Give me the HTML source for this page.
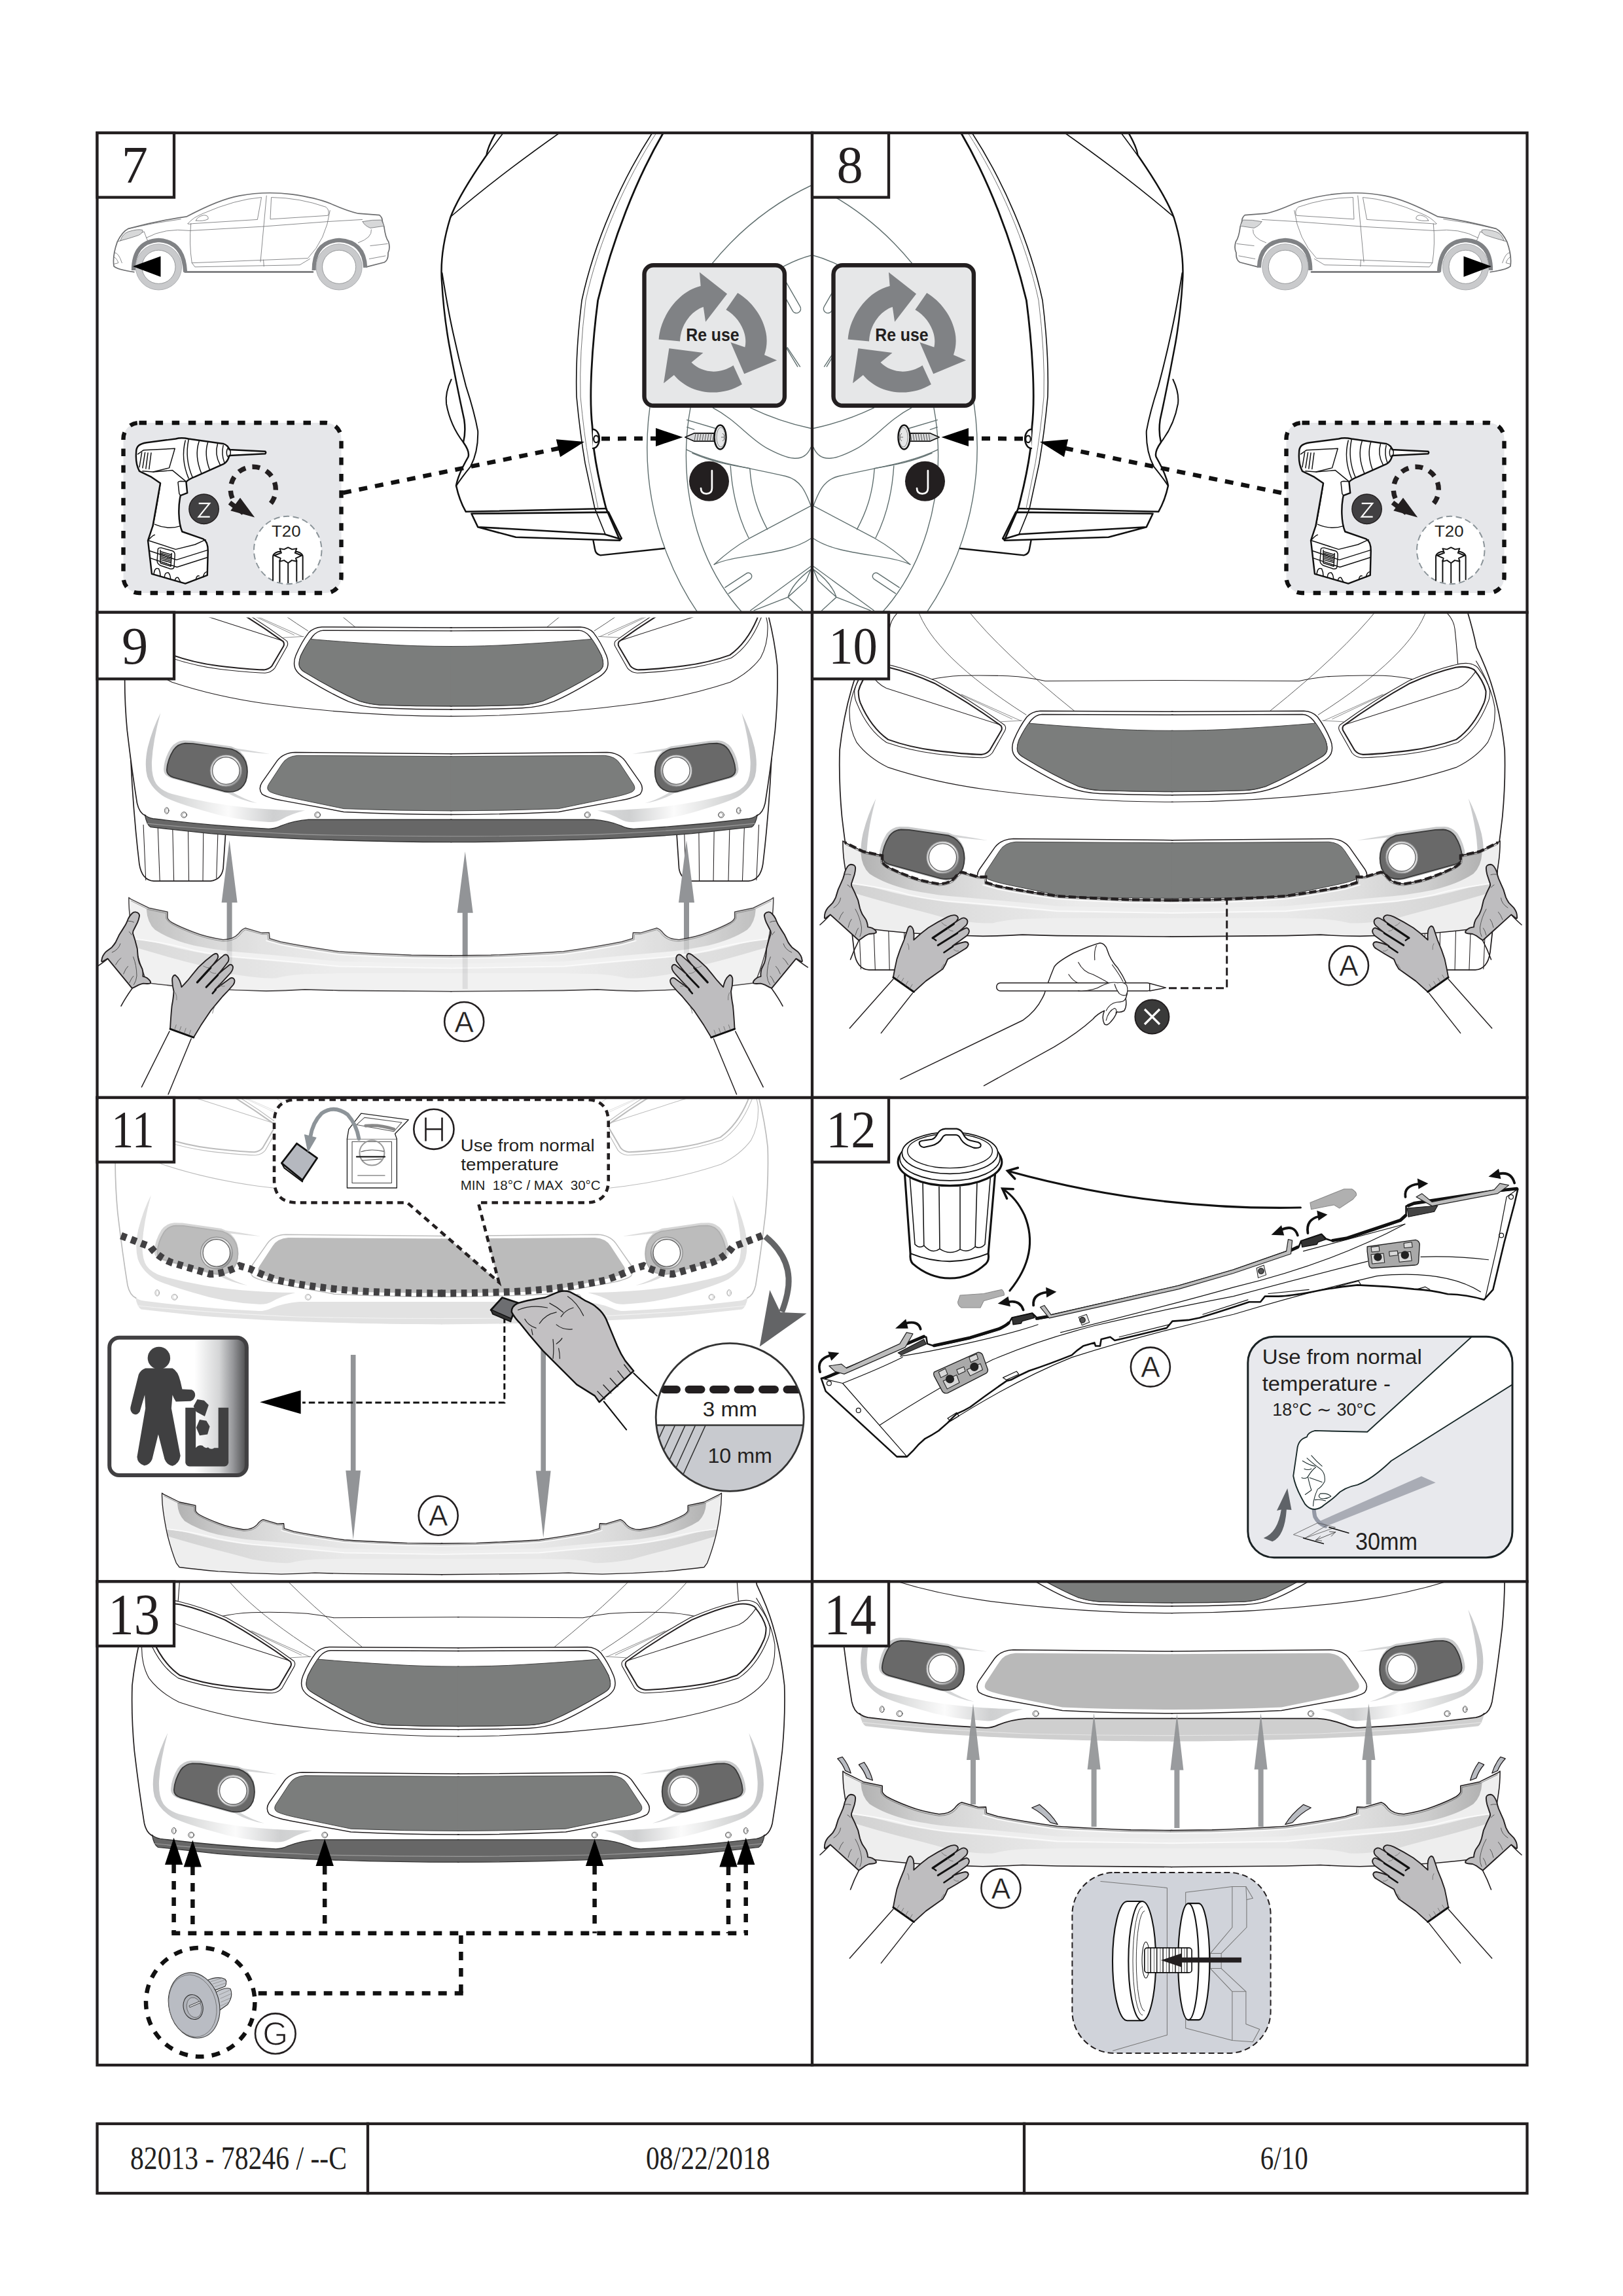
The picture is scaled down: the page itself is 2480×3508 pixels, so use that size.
<!DOCTYPE html>
<html><head><meta charset="utf-8"><title>Installation 6/10</title>
<style>
html,body{margin:0;padding:0;background:#fff;}
body{width:2480px;height:3508px;overflow:hidden;font-family:"Liberation Sans",sans-serif;}
svg{display:block;position:absolute;left:0;top:0;}
.serif{font-family:"Liberation Serif",serif;}
.sans{font-family:"Liberation Sans",sans-serif;}
.k{stroke:#231f20;fill:none;stroke-linecap:round;stroke-linejoin:round;}
.g{stroke:#7f8183;fill:none;stroke-width:1.6;stroke-linecap:round;stroke-linejoin:round;}
.lg{stroke:#c4c6c8;fill:none;stroke-width:2;stroke-linecap:round;stroke-linejoin:round;}
.dash{stroke:#111;fill:none;stroke-width:6.5;stroke-dasharray:13 12;}
</style></head><body>
<svg width="2480" height="3508" viewBox="0 0 2480 3508">
<!-- 00_defs.svg -->
<defs>
<clipPath id="cp7"><rect x="148.5" y="203" width="1092.5" height="732.6"/></clipPath>
<clipPath id="cp8"><rect x="1241" y="203" width="1092.5" height="732.6"/></clipPath>
<clipPath id="cp9"><rect x="148.5" y="935.6" width="1092.5" height="741.4"/></clipPath>
<clipPath id="cp10"><rect x="1241" y="935.6" width="1092.5" height="741.4"/></clipPath>
<clipPath id="cp11"><rect x="148.5" y="1677" width="1092.5" height="739.4"/></clipPath>
<clipPath id="cp12"><rect x="1241" y="1677" width="1092.5" height="739.4"/></clipPath>
<clipPath id="cp13"><rect x="148.5" y="2416.4" width="1092.5" height="738.8"/></clipPath>
<clipPath id="cp14"><rect x="1241" y="2416.4" width="1092.5" height="738.8"/></clipPath>
<clipPath id="cp9b"><rect x="148.5" y="943.5" width="1092.5" height="740"/></clipPath>
<marker id="ah" viewBox="0 0 10 10" refX="5" refY="5" markerWidth="4" markerHeight="4" orient="auto"><path d="M0,0 L10,5 L0,10 z" fill="#111"/></marker>
</defs>

<!-- 10_defs_p78.svg -->
<defs>
<!-- Re use icon, local coords: zoom of region (970,390) scale 6.011 -->
<g id="reuse">
  <rect x="984.5" y="405.2" width="214.4" height="214.6" rx="14" ry="14" fill="#e6e7e8" stroke="#231f20" stroke-width="6.4"/>
  <g transform="translate(970,390) scale(0.16636)" fill="#808285">
    <path d="M220,772 C235,560 400,330 605,282 L595,157 L848,355 L650,612 L630,475 C520,510 420,640 415,790 Z"/>
    <path d="M945,345 C1120,450 1270,690 1190,915 L1305,965 L1005,1090 L880,800 L1012,845 C1040,720 960,570 838,500 Z"/>
    <path d="M985,1185 C800,1300 520,1290 360,1100 L265,1175 L315,855 L628,895 L520,985 C620,1085 780,1095 905,1012 Z"/>
  </g>
  <text x="1048.2" y="520.6" class="sans" font-weight="bold" font-size="27" fill="#231f20" textLength="81.5" lengthAdjust="spacingAndGlyphs">Re use</text>
</g>
<!-- drill box: local = zoom of (160,620) scale 4.0575 -->
<g id="drillbox">
  <rect x="188.5" y="646" width="333" height="260" rx="24" ry="24" fill="#e6e7ea" stroke="#111" stroke-width="6.4" stroke-dasharray="11.5 13.6"/>
  <g transform="translate(160,620) scale(0.24646)">
    <!-- drill body -->
    <path d="M195,290 C195,250 215,235 260,228 L440,205 Q475,195 520,205 L735,235 Q765,245 772,272 L995,283 Q1003,290 995,297 L772,308 Q765,345 735,362 L560,440 Q520,455 505,472 L512,540 L470,556 C455,620 455,720 480,780 L610,825 Q640,840 640,900 L636,1050 L500,1102 L292,1042 L268,835 L298,745 L345,480 L290,442 L215,405 Q190,360 195,290 Z" fill="#fff" stroke="#111" stroke-width="10" stroke-linejoin="round"/>
    <g fill="none" stroke="#111" stroke-width="6" stroke-linecap="round" stroke-linejoin="round">
      <path d="M500,215 Q470,330 520,450"/><path d="M520,210 Q495,330 545,445"/>
      <path d="M585,220 Q555,310 600,420"/><path d="M640,225 Q615,300 650,395"/>
      <path d="M700,235 Q680,300 715,365"/><path d="M735,245 Q722,300 742,352"/>
      <ellipse cx="768" cy="290" rx="12" ry="28"/>
      <path d="M205,300 L240,275 L435,265 L400,385 L300,410 L235,405"/>
      <path d="M215,380 L230,290 M235,385 L250,290 M255,390 L268,292 M275,392 L288,292"/>
      <path d="M300,410 L420,400 L505,470"/>
      <path d="M455,480 Q450,470 470,468 L505,470 M455,480 L462,545 L470,556"/>
      <path d="M345,480 C335,560 320,640 300,745"/>
      <path d="M310,735 Q390,770 470,745"/>
      <path d="M268,835 Q300,800 310,800 M270,835 L440,890 L560,860 L625,830"/>
      <path d="M280,900 L445,955 L636,895 M285,945 L448,1000 L636,940"/>
      <path d="M330,890 Q330,880 350,880 L420,900 Q435,905 435,925 L430,1000 Q425,1015 405,1010 L345,990 Q325,980 325,960 Z"/>
      <path d="M345,895 L345,975 L410,995 L415,915 M350,905 L410,922 M350,915 L410,932 M350,925 L410,942 M350,935 L410,952 M350,945 L410,962 M350,955 L410,972"/>
      <path d="M305,1040 Q310,1000 335,1010 Q345,1030 345,1055 M370,1065 Q372,1030 395,1035 Q408,1050 408,1075 M435,1085 Q440,1060 455,1065 L470,1092 M565,1078 Q570,1050 585,1055 M610,1062 Q615,1035 630,1030"/>
    </g>
    <!-- rotation dashed circle -->
    <path d="M1030,605 A140,140 0 1 0 800,590" fill="none" stroke="#231f20" stroke-width="30" stroke-dasharray="48 42"/>
    <path d="M775,600 L860,665" fill="none" stroke="#231f20" stroke-width="30"/>
    <path d="M930,692 L780,650 L840,570 Z" fill="#231f20"/>
    <!-- Z label -->
    <circle cx="615" cy="640" r="92" fill="#414042" stroke="#231f20" stroke-width="6"/>
    <path d="M583,605 L650,605 L583,688 L652,688" fill="none" stroke="#fff" stroke-width="9" stroke-linejoin="miter"/>
    <!-- T20 -->
    <circle cx="1135" cy="895" r="210" fill="#fff" stroke="#8b9499" stroke-width="8" stroke-dasharray="38 22"/>
    <g fill="#fff" stroke="#111" stroke-width="8" stroke-linejoin="round">
      <path d="M1043,1085 L1043,935 Q1043,915 1075,905 L1195,905 Q1228,915 1228,935 L1228,1080"/>
      <path d="M1085,955 L1085,1095 M1137,975 L1137,1100 M1190,955 L1190,1090" fill="none"/>
      <path d="M1085,885 L1112,890 L1137,878 L1162,890 L1190,885 L1180,912 L1222,928 L1185,945 L1190,965 L1160,958 L1137,975 L1112,958 L1085,965 L1090,945 L1050,928 L1095,912 Z"/>
    </g>
  </g>
  <text x="415" y="820.2" class="sans" font-size="24.5" fill="#231f20" textLength="44.5" lengthAdjust="spacingAndGlyphs">T20</text>
</g>
<!-- car side thumbnail, local = zoom of (150,280) scale 3.246 -->
<g id="carside" transform="translate(150,280) scale(0.30807)">
  <g fill="none" stroke="#6d6e70" stroke-linecap="round" stroke-linejoin="round">
    <path d="M178,440 Q100,430 78,412 Q70,360 95,290 Q120,240 150,225 Q300,185 440,165 Q600,80 700,62 Q830,38 960,55 Q1080,72 1150,100 Q1240,140 1290,150 L1395,158 Q1410,170 1410,190 L1418,215 Q1425,270 1440,290 Q1450,320 1438,345 Q1440,380 1420,392 L1330,415" stroke-width="5.5"/>
    <path d="M430,440 L1065,440" stroke-width="8"/>
    <g stroke-width="2.6">
      <path d="M445,200 Q470,170 520,150 Q680,80 810,70 L790,180 L470,200 Q440,205 445,200 Z"/>
      <path d="M860,70 Q1000,72 1130,118 Q1150,135 1140,160 L855,178 Z"/>
      <path d="M835,62 L805,390 M460,200 Q450,300 465,395 L1040,372 Q1130,280 1150,135"/>
      <path d="M465,395 L480,415 L1000,405 L1050,375"/>
      <path d="M820,380 L822,412"/>
      <path d="M150,225 Q280,195 410,178 M95,290 Q160,270 228,240 Q240,280 255,300"/>
      <path d="M110,285 Q120,250 150,240 Q200,225 220,232 Q225,245 200,258 Q150,275 110,285 Z" fill="#d7d8d9"/>
      <path d="M240,270 Q330,220 455,235 L810,215 L1140,190 L1310,180"/>
      <path d="M1312,190 Q1360,180 1405,182 L1418,212 L1350,222 Q1320,210 1312,190 Z" fill="#d7d8d9"/>
      <path d="M1355,230 Q1360,270 1290,295 M1350,310 L1435,300 M1345,375 L1425,360"/>
      <path d="M80,345 Q100,340 118,395 M78,365 Q95,375 100,395 L80,400"/>
      <path d="M485,185 Q490,165 525,158 Q550,160 545,178 Q520,190 485,185 Z"/>
    </g>
  </g>
  <path d="M175,432 Q175,290 300,282 Q425,290 432,440" fill="none" stroke="#808285" stroke-width="20"/>
  <path d="M1070,432 Q1070,290 1195,282 Q1320,290 1325,418" fill="none" stroke="#808285" stroke-width="20"/>
  <circle cx="300" cy="415" r="114" fill="#c9cacc" stroke="#a7a9ac" stroke-width="3"/>
  <circle cx="300" cy="415" r="83" fill="#fff" stroke="#808285" stroke-width="2.5"/>
  <circle cx="1195" cy="415" r="114" fill="#c9cacc" stroke="#a7a9ac" stroke-width="3"/>
  <circle cx="1195" cy="415" r="83" fill="#fff" stroke="#808285" stroke-width="2.5"/>
</g>
<!-- wheel for panel 7 (right side cut), coordinates absolute -->
<g id="wheel7" fill="none" stroke="#5f6e6e" stroke-width="1.4" stroke-linecap="round">
  <ellipse cx="1423.2" cy="684" rx="434.4" ry="442.1"/>
  <ellipse cx="1288.4" cy="696.2" rx="240" ry="312.6"/>
  <g transform="translate(960,600) scale(0.18484)" stroke-width="7.5">
    <path d="M700,125 C900,230 1000,380 1150,460 S1450,600 1510,450"/>
    <path d="M1010,125 Q1250,240 1510,295"/>
    <path d="M485,225 L720,295 M485,285 L545,305"/>
    <path d="M480,470 C700,580 1000,620 1300,690 C1430,720 1470,830 1510,935"/>
    <path d="M530,500 C700,575 850,600 1000,625"/>
    <path d="M845,605 C860,850 920,1050 995,1200"/>
    <path d="M1005,625 C1020,850 1080,1000 1150,1130"/>
    <path d="M1510,935 L1000,1205 Q850,1290 710,1420"/>
    <path d="M710,1420 C900,1330 1300,1350 1510,1205"/>
    <path d="M800,1610 L975,1495 A28,28 0 0 1 1010,1540 L830,1660"/>
    <path d="M1510,1435 L1010,1800 M1510,1460 L1470,1555 L1320,1690 L1040,1800 M1320,1690 L1440,1800 M1510,1460 Q1360,1570 1320,1690"/>
  </g>
  <g transform="translate(960,200) scale(0.18484)" stroke-width="7.5">
    <path d="M1305,1250 L1420,1450 A30,30 0 0 1 1360,1490 L1305,1390"/>
    <path d="M1305,1790 L1400,1948 M1315,1790 L1420,1948"/>
  </g>
</g>
<!-- fender for panel 7 -->
<g id="fender7" fill="none" stroke="#111" stroke-linecap="round" stroke-linejoin="round">
  <path d="M1013.5,203 C972,274 936,366 913.6,459 C904,533 900,607 905,651 L907.7,688 Q913,727 926.2,777 L947,825 L949.6,822.5" stroke-width="2.8"/>
  <path d="M757.6,203 Q745,225 743.5,237 Q700,300 688,333 Q672,385 675,429 Q678,480 686,525 Q697,585 709.3,641.3 Q712,660 708,675.8 Q718,690 715.5,698 Q700,725 697,742 Q702,765 711.8,781.8 L926.2,777" stroke-width="2.5"/>
  <path d="M769,203 Q760,215 744,237 M855,203 Q760,270 690,330" stroke-width="1.6"/>
  <path d="M675.5,417 Q684,470 690.5,500 Q700,545 712,590 Q725,630 730.2,658.6 Q731,690 719,712.8 Q705,730 697,742.4" stroke-width="2"/>
  <path d="M689.6,579.7 Q680,600 682,616.7 Q688,650 708,675.8" stroke-width="2"/>
  <path d="M720.4,784.8 L929.9,782.6 M720.4,784.8 L730.2,805.2 L788.2,820.8 L947.1,825.7 M730.2,805.2 L923.7,816.3 L948.4,823.7 M929.9,782.6 L949.6,822.5" stroke-width="2.6"/>
  <path d="M906.5,825.7 L908.9,838.5 Q910,847 917.5,848.4 L1014.9,838" stroke-width="2.4"/>
  <path d="M996.7,203 C950,275 908,370 889,459 Q879,540 881,606 Q886,660 894.1,707.9 L908.9,776.9 L924.9,816.3" stroke-width="1.6"/>
  <path d="M1003,203 C956,275 914,370 895,459 Q885,540 887,606 Q892,660 900,707.9 L914,776.9" stroke-width="1" stroke="#777"/>
  <path d="M906,656 A9.5,14 0 1 1 906,685" stroke-width="2.4" fill="#fff"/>
  <ellipse cx="911" cy="670.9" rx="3.8" ry="5.2" stroke-width="2.2" fill="#fff"/>
</g>
<!-- screw pointing left, head to right: tip at (1046.9,668) -->
<g id="screw7">
  <path d="M1046.9,668 L1061,661.8 L1092,662 L1092,674 L1061,674.2 Z" fill="#d9dadb" stroke="#111" stroke-width="1.8" stroke-linejoin="round"/>
  <path d="M1063,662 L1061,674 M1067,662 L1065,674 M1071,662 L1069,674 M1075,662 L1073,674 M1079,662 L1077,674 M1083,662 L1081,674 M1087,662 L1085,674 M1091,662 L1089,674" stroke="#555" stroke-width="1" fill="none"/>
  <ellipse cx="1100.5" cy="668" rx="9" ry="18.5" fill="#e6e7e8" stroke="#111" stroke-width="2.4"/>
  <ellipse cx="1101.5" cy="668" rx="6.5" ry="15" fill="none" stroke="#888" stroke-width="1"/>
  <path d="M1104,662 q3,2 3,6 q0,4 -3,6 M1102,668 h5" stroke="#666" stroke-width="1" fill="none"/>
</g>
<g id="labelJ">
  <circle cx="1083.5" cy="735.3" r="30.5" fill="#231f20"/>
  <path d="M1087.9,719.2 L1087.9,746 Q1087.9,754.3 1079.3,754.3 Q1071,754.3 1071,746" fill="none" stroke="#fff" stroke-width="2.7" stroke-linecap="round"/>
</g>
</defs>

<!-- 11_defs_car.svg -->
<defs>
<linearGradient id="swg" gradientUnits="userSpaceOnUse" x1="230" y1="0" x2="890" y2="0"><stop offset="0" stop-color="#c4c5c7"/><stop offset="0.25" stop-color="#dcdddd"/><stop offset="0.52" stop-color="#fbfbfb"/><stop offset="0.8" stop-color="#cfd0d1"/><stop offset="1" stop-color="#d8d9da"/></linearGradient>
<linearGradient id="ringg" x1="0" y1="0" x2="1" y2="1"><stop offset="0" stop-color="#b8b9bb"/><stop offset="0.5" stop-color="#e8e8e8"/><stop offset="1" stop-color="#77787a"/></linearGradient>
<g id="carN" transform="translate(148,2416) scale(0.36969)" stroke-linecap="round" stroke-linejoin="round"><g><path d="M300,-140 Q275,-60 260,15 Q215,110 195,180 Q160,300 146,430 Q142,560 155,700 Q175,870 196,1000 Q205,1040 230,1052 L1485,1100 L1485,-140 Z" fill="#fff" stroke="none"/><path d="M228,1048 Q240,1060 262,1064 Q500,1094 740,1106 Q765,1106 790,1094 Q845,1072 905,1068 L1497,1068 L1497,1161 C1200,1161 800,1150 500,1126 L252,1099 Q236,1090 228,1048 Z" fill="#676767" stroke="none"/><path d="M1497,1068 L905,1068 Q845,1072 790,1094 Q765,1106 740,1106 Q500,1094 262,1064 Q240,1060 228,1048 Q236,1090 252,1099 L500,1126 C800,1150 1200,1161 1497,1161" fill="none" stroke="#333" stroke-width="3.5"/><path d="M238,1084 Q500,1112 900,1130 Q1200,1137 1497,1137" fill="none" stroke="#9a9a9a" stroke-width="3"/><path d="M300,-140 Q275,-60 260,15 Q215,110 195,180 Q160,300 146,430 Q142,560 155,700 Q175,870 196,1000 Q205,1040 230,1052" fill="none" stroke="#231f20" stroke-width="4.6"/><path d="M262,70 Q200,170 186,260 Q182,340 215,400 Q260,460 340,500 Q520,560 735,590 C1000,625 1250,641 1497,641" fill="none" stroke="#231f20" stroke-width="3"/><path d="M462,-140 Q522,45 902,288 M662,-140 Q802,35 1097,272" fill="none" stroke="#555" stroke-width="2.6"/><path d="M509,146 Q570,132 639,129 Q760,126 869,133 Q930,140 979,151 L1497,148" fill="none" stroke="#231f20" stroke-width="2.8"/><path d="M379,-124 Q352,-95 348,-60 L342,0 L336,80" fill="none" stroke="#231f20" stroke-width="3"/><path d="M800,316 L885,311 M640,205 L880,312 M560,170 L845,305" fill="none" stroke="#555" stroke-width="1.8"/><path d="M815,330 Q680,230 535,150 Q430,105 345,85 Q310,76 290,80 Q265,85 255,97 Q215,150 206,190 Q205,220 216,242 Q260,350 336,400 Q430,432 535,446 Q650,460 725,462 Q750,460 765,442 L816,352 Q822,340 815,330 Z" fill="#fff" stroke="#231f20" stroke-width="3"/><path d="M800,332 Q670,238 530,160 Q430,116 345,96 Q300,88 270,105 Q232,150 222,192 Q222,220 230,240 Q272,338 342,388 Q430,420 535,433 Q650,447 720,449 Q742,447 754,432 L801,352 Q806,342 800,332 Z" fill="none" stroke="#231f20" stroke-width="5.5"/><path d="M262,110 Q300,165 335,180 L795,328" fill="none" stroke="#231f20" stroke-width="2.8"/><path d="M1497,275 L960,272 Q925,274 905,296 Q875,335 852,390 Q840,420 850,445 Q860,465 885,480 Q1000,550 1070,580 Q1130,604 1200,607 Q1350,613 1497,613" fill="none" stroke="#231f20" stroke-width="4"/><path d="M1497,288 L966,286 Q940,288 922,310 Q895,345 873,390 Q862,420 868,437 Q875,452 895,462 Q1010,532 1115,578 Q1160,592 1200,594 Q1350,599 1497,599" fill="none" stroke="#231f20" stroke-width="4"/><path d="M1497,352 Q1350,352 1222,344 Q1050,334 912,322 Q893,348 873,390 Q862,420 868,437 Q875,452 895,462 Q1010,532 1115,578 Q1160,592 1200,594 Q1350,599 1497,599" fill="#7b7d7c" stroke="#3a3a3a" stroke-width="2.5"/><path d="M1497,796 L850,790 Q800,792 775,825 L712,915 Q696,940 712,962 Q735,978 800,990 L1050,1036 Q1270,1047 1497,1047" fill="none" stroke="#231f20" stroke-width="4"/><path d="M1497,807 L860,803 Q815,806 795,838 L740,922 Q728,942 745,953 Q770,965 833,978 L1050,1023 Q1270,1032 1497,1032" fill="#7b7d7c" stroke="#3a3a3a" stroke-width="2.5"/><path d="M293,627 Q262,740 257,827 Q255,890 275,920 Q295,948 340,962 Q500,1005 667,1020 Q780,1030 890,1030 Q830,1045 795,1066 Q770,1080 740,1078 Q600,1072 467,1030 Q360,1000 310,975 Q255,940 238,890 Q225,840 240,770 Q260,690 293,627 Z" fill="url(#swg)" stroke="none"/><path d="M385,748 Q560,762 745,797 Q600,786 430,760 Z M588,954 Q640,985 692,1000 Q630,992 565,956 Z" fill="#d4d5d6" stroke="none"/><path d="M319,862 Q322,820 347,780 Q365,755 395,753 L427,754 L587,777 Q628,790 645,830 Q658,870 645,910 Q630,945 595,952 Q575,955 555,951 L467,927 L347,894 Q318,885 319,862 Z" fill="none" stroke="#c9cacb" stroke-width="16" transform="translate(-5,-4)"/><path d="M319,862 Q322,820 347,780 Q365,755 395,753 L427,754 L587,777 Q628,790 645,830 Q658,870 645,910 Q630,945 595,952 Q575,955 555,951 L467,927 L347,894 Q318,885 319,862 Z" fill="#696969" stroke="#3a3a3a" stroke-width="5"/><circle cx="563.5" cy="866" r="66" fill="url(#ringg)" stroke="#7a7a7a" stroke-width="3"/><circle cx="563.5" cy="866" r="56" fill="#fff" stroke="#555" stroke-width="3"/></g><g transform="translate(2988,0) scale(-1,1)"><path d="M300,-140 Q275,-60 260,15 Q215,110 195,180 Q160,300 146,430 Q142,560 155,700 Q175,870 196,1000 Q205,1040 230,1052 L1485,1100 L1485,-140 Z" fill="#fff" stroke="none"/><path d="M228,1048 Q240,1060 262,1064 Q500,1094 740,1106 Q765,1106 790,1094 Q845,1072 905,1068 L1497,1068 L1497,1161 C1200,1161 800,1150 500,1126 L252,1099 Q236,1090 228,1048 Z" fill="#676767" stroke="none"/><path d="M1497,1068 L905,1068 Q845,1072 790,1094 Q765,1106 740,1106 Q500,1094 262,1064 Q240,1060 228,1048 Q236,1090 252,1099 L500,1126 C800,1150 1200,1161 1497,1161" fill="none" stroke="#333" stroke-width="3.5"/><path d="M238,1084 Q500,1112 900,1130 Q1200,1137 1497,1137" fill="none" stroke="#9a9a9a" stroke-width="3"/><path d="M300,-140 Q275,-60 260,15 Q215,110 195,180 Q160,300 146,430 Q142,560 155,700 Q175,870 196,1000 Q205,1040 230,1052" fill="none" stroke="#231f20" stroke-width="4.6"/><path d="M262,70 Q200,170 186,260 Q182,340 215,400 Q260,460 340,500 Q520,560 735,590 C1000,625 1250,641 1497,641" fill="none" stroke="#231f20" stroke-width="3"/><path d="M462,-140 Q522,45 902,288 M662,-140 Q802,35 1097,272" fill="none" stroke="#555" stroke-width="2.6"/><path d="M509,146 Q570,132 639,129 Q760,126 869,133 Q930,140 979,151 L1497,148" fill="none" stroke="#231f20" stroke-width="2.8"/><path d="M379,-124 Q352,-95 348,-60 L342,0 L336,80" fill="none" stroke="#231f20" stroke-width="3"/><path d="M800,316 L885,311 M640,205 L880,312 M560,170 L845,305" fill="none" stroke="#555" stroke-width="1.8"/><path d="M815,330 Q680,230 535,150 Q430,105 345,85 Q310,76 290,80 Q265,85 255,97 Q215,150 206,190 Q205,220 216,242 Q260,350 336,400 Q430,432 535,446 Q650,460 725,462 Q750,460 765,442 L816,352 Q822,340 815,330 Z" fill="#fff" stroke="#231f20" stroke-width="3"/><path d="M800,332 Q670,238 530,160 Q430,116 345,96 Q300,88 270,105 Q232,150 222,192 Q222,220 230,240 Q272,338 342,388 Q430,420 535,433 Q650,447 720,449 Q742,447 754,432 L801,352 Q806,342 800,332 Z" fill="none" stroke="#231f20" stroke-width="5.5"/><path d="M262,110 Q300,165 335,180 L795,328" fill="none" stroke="#231f20" stroke-width="2.8"/><path d="M1497,275 L960,272 Q925,274 905,296 Q875,335 852,390 Q840,420 850,445 Q860,465 885,480 Q1000,550 1070,580 Q1130,604 1200,607 Q1350,613 1497,613" fill="none" stroke="#231f20" stroke-width="4"/><path d="M1497,288 L966,286 Q940,288 922,310 Q895,345 873,390 Q862,420 868,437 Q875,452 895,462 Q1010,532 1115,578 Q1160,592 1200,594 Q1350,599 1497,599" fill="none" stroke="#231f20" stroke-width="4"/><path d="M1497,352 Q1350,352 1222,344 Q1050,334 912,322 Q893,348 873,390 Q862,420 868,437 Q875,452 895,462 Q1010,532 1115,578 Q1160,592 1200,594 Q1350,599 1497,599" fill="#7b7d7c" stroke="#3a3a3a" stroke-width="2.5"/><path d="M1497,796 L850,790 Q800,792 775,825 L712,915 Q696,940 712,962 Q735,978 800,990 L1050,1036 Q1270,1047 1497,1047" fill="none" stroke="#231f20" stroke-width="4"/><path d="M1497,807 L860,803 Q815,806 795,838 L740,922 Q728,942 745,953 Q770,965 833,978 L1050,1023 Q1270,1032 1497,1032" fill="#7b7d7c" stroke="#3a3a3a" stroke-width="2.5"/><path d="M293,627 Q262,740 257,827 Q255,890 275,920 Q295,948 340,962 Q500,1005 667,1020 Q780,1030 890,1030 Q830,1045 795,1066 Q770,1080 740,1078 Q600,1072 467,1030 Q360,1000 310,975 Q255,940 238,890 Q225,840 240,770 Q260,690 293,627 Z" fill="url(#swg)" stroke="none"/><path d="M385,748 Q560,762 745,797 Q600,786 430,760 Z M588,954 Q640,985 692,1000 Q630,992 565,956 Z" fill="#d4d5d6" stroke="none"/><path d="M319,862 Q322,820 347,780 Q365,755 395,753 L427,754 L587,777 Q628,790 645,830 Q658,870 645,910 Q630,945 595,952 Q575,955 555,951 L467,927 L347,894 Q318,885 319,862 Z" fill="none" stroke="#c9cacb" stroke-width="16" transform="translate(-5,-4)"/><path d="M319,862 Q322,820 347,780 Q365,755 395,753 L427,754 L587,777 Q628,790 645,830 Q658,870 645,910 Q630,945 595,952 Q575,955 555,951 L467,927 L347,894 Q318,885 319,862 Z" fill="#696969" stroke="#3a3a3a" stroke-width="5"/><circle cx="563.5" cy="866" r="66" fill="url(#ringg)" stroke="#7a7a7a" stroke-width="3"/><circle cx="563.5" cy="866" r="56" fill="#fff" stroke="#555" stroke-width="3"/></g><ellipse cx="318.5" cy="1031" rx="9" ry="13" fill="#fff" stroke="#555" stroke-width="2.6"/><ellipse cx="320.0" cy="1031" rx="5.7" ry="9.7" fill="none" stroke="#555" stroke-width="1.5"/><ellipse cx="390" cy="1048.5" rx="12" ry="12" fill="#fff" stroke="#555" stroke-width="2.6"/><ellipse cx="391.5" cy="1048.5" rx="8.7" ry="8.7" fill="none" stroke="#555" stroke-width="1.5"/><ellipse cx="942" cy="1048.5" rx="12" ry="12" fill="#fff" stroke="#555" stroke-width="2.6"/><ellipse cx="943.5" cy="1048.5" rx="8.7" ry="8.7" fill="none" stroke="#555" stroke-width="1.5"/><ellipse cx="2057.4" cy="1048.5" rx="12" ry="12" fill="#fff" stroke="#555" stroke-width="2.6"/><ellipse cx="2055.9" cy="1048.5" rx="8.7" ry="8.7" fill="none" stroke="#555" stroke-width="1.5"/><ellipse cx="2610.3" cy="1048.5" rx="12" ry="12" fill="#fff" stroke="#555" stroke-width="2.6"/><ellipse cx="2608.8" cy="1048.5" rx="8.7" ry="8.7" fill="none" stroke="#555" stroke-width="1.5"/><ellipse cx="2682.5" cy="1031" rx="9" ry="13" fill="#fff" stroke="#555" stroke-width="2.6"/><ellipse cx="2681.0" cy="1031" rx="5.7" ry="9.7" fill="none" stroke="#555" stroke-width="1.5"/></g>
<g id="car14" transform="translate(148,2416) scale(0.36969)" stroke-linecap="round" stroke-linejoin="round"><g><path d="M300,-140 Q275,-60 260,15 Q215,110 195,180 Q160,300 146,430 Q142,560 155,700 Q175,870 196,1000 Q205,1040 230,1052 L1485,1100 L1485,-140 Z" fill="#fff" stroke="none"/><path d="M228,1048 Q240,1060 262,1064 Q500,1094 740,1106 Q765,1106 790,1094 Q845,1072 905,1068 L1497,1068 L1497,1161 C1200,1161 800,1150 500,1126 L252,1099 Q236,1090 228,1048 Z" fill="#cfcfcf" stroke="none"/><path d="M1497,1068 L905,1068 Q845,1072 790,1094 Q765,1106 740,1106 Q500,1094 262,1064 Q240,1060 228,1048 Q236,1090 252,1099 L500,1126 C800,1150 1200,1161 1497,1161" fill="none" stroke="none" stroke-width="3.5"/><path d="M238,1084 Q500,1112 900,1130 Q1200,1137 1497,1137" fill="none" stroke="#e4e4e4" stroke-width="3"/><path d="M228,1048 Q240,1060 262,1064 Q500,1094 740,1106 Q765,1106 790,1094 Q845,1072 905,1068 L1497,1068" fill="none" stroke="#231f20" stroke-width="5"/><path d="M300,-140 Q275,-60 260,15 Q215,110 195,180 Q160,300 146,430 Q142,560 155,700 Q175,870 196,1000 Q205,1040 230,1052" fill="none" stroke="#231f20" stroke-width="4.6"/><path d="M262,70 Q200,170 186,260 Q182,340 215,400 Q260,460 340,500 Q520,560 735,590 C1000,625 1250,641 1497,641" fill="none" stroke="#231f20" stroke-width="3"/><path d="M462,-140 Q522,45 902,288 M662,-140 Q802,35 1097,272" fill="none" stroke="#555" stroke-width="2.6"/><path d="M509,146 Q570,132 639,129 Q760,126 869,133 Q930,140 979,151 L1497,148" fill="none" stroke="#231f20" stroke-width="2.8"/><path d="M379,-124 Q352,-95 348,-60 L342,0 L336,80" fill="none" stroke="#231f20" stroke-width="3"/><path d="M800,316 L885,311 M640,205 L880,312 M560,170 L845,305" fill="none" stroke="#555" stroke-width="1.8"/><path d="M815,330 Q680,230 535,150 Q430,105 345,85 Q310,76 290,80 Q265,85 255,97 Q215,150 206,190 Q205,220 216,242 Q260,350 336,400 Q430,432 535,446 Q650,460 725,462 Q750,460 765,442 L816,352 Q822,340 815,330 Z" fill="#fff" stroke="#231f20" stroke-width="3"/><path d="M800,332 Q670,238 530,160 Q430,116 345,96 Q300,88 270,105 Q232,150 222,192 Q222,220 230,240 Q272,338 342,388 Q430,420 535,433 Q650,447 720,449 Q742,447 754,432 L801,352 Q806,342 800,332 Z" fill="none" stroke="#231f20" stroke-width="5.5"/><path d="M262,110 Q300,165 335,180 L795,328" fill="none" stroke="#231f20" stroke-width="2.8"/><path d="M1497,275 L960,272 Q925,274 905,296 Q875,335 852,390 Q840,420 850,445 Q860,465 885,480 Q1000,550 1070,580 Q1130,604 1200,607 Q1350,613 1497,613" fill="none" stroke="#231f20" stroke-width="4"/><path d="M1497,288 L966,286 Q940,288 922,310 Q895,345 873,390 Q862,420 868,437 Q875,452 895,462 Q1010,532 1115,578 Q1160,592 1200,594 Q1350,599 1497,599" fill="none" stroke="#231f20" stroke-width="4"/><path d="M1497,352 Q1350,352 1222,344 Q1050,334 912,322 Q893,348 873,390 Q862,420 868,437 Q875,452 895,462 Q1010,532 1115,578 Q1160,592 1200,594 Q1350,599 1497,599" fill="#7b7d7c" stroke="#3a3a3a" stroke-width="2.5"/><path d="M1497,796 L850,790 Q800,792 775,825 L712,915 Q696,940 712,962 Q735,978 800,990 L1050,1036 Q1270,1047 1497,1047" fill="none" stroke="#231f20" stroke-width="4"/><path d="M1497,807 L860,803 Q815,806 795,838 L740,922 Q728,942 745,953 Q770,965 833,978 L1050,1023 Q1270,1032 1497,1032" fill="#b9b9b9" stroke="none" stroke-width="2.5"/><path d="M293,627 Q262,740 257,827 Q255,890 275,920 Q295,948 340,962 Q500,1005 667,1020 Q780,1030 890,1030 Q830,1045 795,1066 Q770,1080 740,1078 Q600,1072 467,1030 Q360,1000 310,975 Q255,940 238,890 Q225,840 240,770 Q260,690 293,627 Z" fill="url(#swg)" stroke="none"/><path d="M385,748 Q560,762 745,797 Q600,786 430,760 Z M588,954 Q640,985 692,1000 Q630,992 565,956 Z" fill="#d4d5d6" stroke="none"/><path d="M319,862 Q322,820 347,780 Q365,755 395,753 L427,754 L587,777 Q628,790 645,830 Q658,870 645,910 Q630,945 595,952 Q575,955 555,951 L467,927 L347,894 Q318,885 319,862 Z" fill="none" stroke="#c9cacb" stroke-width="16" transform="translate(-5,-4)"/><path d="M319,862 Q322,820 347,780 Q365,755 395,753 L427,754 L587,777 Q628,790 645,830 Q658,870 645,910 Q630,945 595,952 Q575,955 555,951 L467,927 L347,894 Q318,885 319,862 Z" fill="#696969" stroke="#3a3a3a" stroke-width="5"/><circle cx="563.5" cy="866" r="66" fill="url(#ringg)" stroke="#7a7a7a" stroke-width="3"/><circle cx="563.5" cy="866" r="56" fill="#fff" stroke="#555" stroke-width="3"/></g><g transform="translate(2988,0) scale(-1,1)"><path d="M300,-140 Q275,-60 260,15 Q215,110 195,180 Q160,300 146,430 Q142,560 155,700 Q175,870 196,1000 Q205,1040 230,1052 L1485,1100 L1485,-140 Z" fill="#fff" stroke="none"/><path d="M228,1048 Q240,1060 262,1064 Q500,1094 740,1106 Q765,1106 790,1094 Q845,1072 905,1068 L1497,1068 L1497,1161 C1200,1161 800,1150 500,1126 L252,1099 Q236,1090 228,1048 Z" fill="#cfcfcf" stroke="none"/><path d="M1497,1068 L905,1068 Q845,1072 790,1094 Q765,1106 740,1106 Q500,1094 262,1064 Q240,1060 228,1048 Q236,1090 252,1099 L500,1126 C800,1150 1200,1161 1497,1161" fill="none" stroke="none" stroke-width="3.5"/><path d="M238,1084 Q500,1112 900,1130 Q1200,1137 1497,1137" fill="none" stroke="#e4e4e4" stroke-width="3"/><path d="M228,1048 Q240,1060 262,1064 Q500,1094 740,1106 Q765,1106 790,1094 Q845,1072 905,1068 L1497,1068" fill="none" stroke="#231f20" stroke-width="5"/><path d="M300,-140 Q275,-60 260,15 Q215,110 195,180 Q160,300 146,430 Q142,560 155,700 Q175,870 196,1000 Q205,1040 230,1052" fill="none" stroke="#231f20" stroke-width="4.6"/><path d="M262,70 Q200,170 186,260 Q182,340 215,400 Q260,460 340,500 Q520,560 735,590 C1000,625 1250,641 1497,641" fill="none" stroke="#231f20" stroke-width="3"/><path d="M462,-140 Q522,45 902,288 M662,-140 Q802,35 1097,272" fill="none" stroke="#555" stroke-width="2.6"/><path d="M509,146 Q570,132 639,129 Q760,126 869,133 Q930,140 979,151 L1497,148" fill="none" stroke="#231f20" stroke-width="2.8"/><path d="M379,-124 Q352,-95 348,-60 L342,0 L336,80" fill="none" stroke="#231f20" stroke-width="3"/><path d="M800,316 L885,311 M640,205 L880,312 M560,170 L845,305" fill="none" stroke="#555" stroke-width="1.8"/><path d="M815,330 Q680,230 535,150 Q430,105 345,85 Q310,76 290,80 Q265,85 255,97 Q215,150 206,190 Q205,220 216,242 Q260,350 336,400 Q430,432 535,446 Q650,460 725,462 Q750,460 765,442 L816,352 Q822,340 815,330 Z" fill="#fff" stroke="#231f20" stroke-width="3"/><path d="M800,332 Q670,238 530,160 Q430,116 345,96 Q300,88 270,105 Q232,150 222,192 Q222,220 230,240 Q272,338 342,388 Q430,420 535,433 Q650,447 720,449 Q742,447 754,432 L801,352 Q806,342 800,332 Z" fill="none" stroke="#231f20" stroke-width="5.5"/><path d="M262,110 Q300,165 335,180 L795,328" fill="none" stroke="#231f20" stroke-width="2.8"/><path d="M1497,275 L960,272 Q925,274 905,296 Q875,335 852,390 Q840,420 850,445 Q860,465 885,480 Q1000,550 1070,580 Q1130,604 1200,607 Q1350,613 1497,613" fill="none" stroke="#231f20" stroke-width="4"/><path d="M1497,288 L966,286 Q940,288 922,310 Q895,345 873,390 Q862,420 868,437 Q875,452 895,462 Q1010,532 1115,578 Q1160,592 1200,594 Q1350,599 1497,599" fill="none" stroke="#231f20" stroke-width="4"/><path d="M1497,352 Q1350,352 1222,344 Q1050,334 912,322 Q893,348 873,390 Q862,420 868,437 Q875,452 895,462 Q1010,532 1115,578 Q1160,592 1200,594 Q1350,599 1497,599" fill="#7b7d7c" stroke="#3a3a3a" stroke-width="2.5"/><path d="M1497,796 L850,790 Q800,792 775,825 L712,915 Q696,940 712,962 Q735,978 800,990 L1050,1036 Q1270,1047 1497,1047" fill="none" stroke="#231f20" stroke-width="4"/><path d="M1497,807 L860,803 Q815,806 795,838 L740,922 Q728,942 745,953 Q770,965 833,978 L1050,1023 Q1270,1032 1497,1032" fill="#b9b9b9" stroke="none" stroke-width="2.5"/><path d="M293,627 Q262,740 257,827 Q255,890 275,920 Q295,948 340,962 Q500,1005 667,1020 Q780,1030 890,1030 Q830,1045 795,1066 Q770,1080 740,1078 Q600,1072 467,1030 Q360,1000 310,975 Q255,940 238,890 Q225,840 240,770 Q260,690 293,627 Z" fill="url(#swg)" stroke="none"/><path d="M385,748 Q560,762 745,797 Q600,786 430,760 Z M588,954 Q640,985 692,1000 Q630,992 565,956 Z" fill="#d4d5d6" stroke="none"/><path d="M319,862 Q322,820 347,780 Q365,755 395,753 L427,754 L587,777 Q628,790 645,830 Q658,870 645,910 Q630,945 595,952 Q575,955 555,951 L467,927 L347,894 Q318,885 319,862 Z" fill="none" stroke="#c9cacb" stroke-width="16" transform="translate(-5,-4)"/><path d="M319,862 Q322,820 347,780 Q365,755 395,753 L427,754 L587,777 Q628,790 645,830 Q658,870 645,910 Q630,945 595,952 Q575,955 555,951 L467,927 L347,894 Q318,885 319,862 Z" fill="#696969" stroke="#3a3a3a" stroke-width="5"/><circle cx="563.5" cy="866" r="66" fill="url(#ringg)" stroke="#7a7a7a" stroke-width="3"/><circle cx="563.5" cy="866" r="56" fill="#fff" stroke="#555" stroke-width="3"/></g><ellipse cx="318.5" cy="1031" rx="9" ry="13" fill="#fff" stroke="#555" stroke-width="2.6"/><ellipse cx="320.0" cy="1031" rx="5.7" ry="9.7" fill="none" stroke="#555" stroke-width="1.5"/><ellipse cx="390" cy="1048.5" rx="12" ry="12" fill="#fff" stroke="#555" stroke-width="2.6"/><ellipse cx="391.5" cy="1048.5" rx="8.7" ry="8.7" fill="none" stroke="#555" stroke-width="1.5"/><ellipse cx="942" cy="1048.5" rx="12" ry="12" fill="#fff" stroke="#555" stroke-width="2.6"/><ellipse cx="943.5" cy="1048.5" rx="8.7" ry="8.7" fill="none" stroke="#555" stroke-width="1.5"/><ellipse cx="2057.4" cy="1048.5" rx="12" ry="12" fill="#fff" stroke="#555" stroke-width="2.6"/><ellipse cx="2055.9" cy="1048.5" rx="8.7" ry="8.7" fill="none" stroke="#555" stroke-width="1.5"/><ellipse cx="2610.3" cy="1048.5" rx="12" ry="12" fill="#fff" stroke="#555" stroke-width="2.6"/><ellipse cx="2608.8" cy="1048.5" rx="8.7" ry="8.7" fill="none" stroke="#555" stroke-width="1.5"/><ellipse cx="2682.5" cy="1031" rx="9" ry="13" fill="#fff" stroke="#555" stroke-width="2.6"/><ellipse cx="2681.0" cy="1031" rx="5.7" ry="9.7" fill="none" stroke="#555" stroke-width="1.5"/></g>
<g id="carF" transform="translate(148,2416) scale(0.36969)" stroke-linecap="round" stroke-linejoin="round"><g><path d="M300,-140 Q275,-60 260,15 Q215,110 195,180 Q160,300 146,430 Q142,560 155,700 Q175,870 196,1000 Q205,1040 230,1052 L1485,1100 L1485,-140 Z" fill="#fff" stroke="none"/><path d="M228,1048 Q240,1060 262,1064 Q500,1094 740,1106 Q765,1106 790,1094 Q845,1072 905,1068 L1497,1068 L1497,1161 C1200,1161 800,1150 500,1126 L252,1099 Q236,1090 228,1048 Z" fill="#e2e2e2" stroke="none"/><path d="M1497,1068 L905,1068 Q845,1072 790,1094 Q765,1106 740,1106 Q500,1094 262,1064 Q240,1060 228,1048 Q236,1090 252,1099 L500,1126 C800,1150 1200,1161 1497,1161" fill="none" stroke="none" stroke-width="3.5"/><path d="M238,1084 Q500,1112 900,1130 Q1200,1137 1497,1137" fill="none" stroke="#f2f2f2" stroke-width="3"/><path d="M300,-140 Q275,-60 260,15 Q215,110 195,180 Q160,300 146,430 Q142,560 155,700 Q175,870 196,1000 Q205,1040 230,1052" fill="none" stroke="#bcbcbc" stroke-width="4.6"/><path d="M262,70 Q200,170 186,260 Q182,340 215,400 Q260,460 340,500 Q520,560 735,590 C1000,625 1250,641 1497,641" fill="none" stroke="#bcbcbc" stroke-width="3"/><path d="M462,-140 Q522,45 902,288 M662,-140 Q802,35 1097,272" fill="none" stroke="#cfcfcf" stroke-width="2.6"/><path d="M509,146 Q570,132 639,129 Q760,126 869,133 Q930,140 979,151 L1497,148" fill="none" stroke="#bcbcbc" stroke-width="2.8"/><path d="M379,-124 Q352,-95 348,-60 L342,0 L336,80" fill="none" stroke="#bcbcbc" stroke-width="3"/><path d="M800,316 L885,311 M640,205 L880,312 M560,170 L845,305" fill="none" stroke="#cfcfcf" stroke-width="1.8"/><path d="M815,330 Q680,230 535,150 Q430,105 345,85 Q310,76 290,80 Q265,85 255,97 Q215,150 206,190 Q205,220 216,242 Q260,350 336,400 Q430,432 535,446 Q650,460 725,462 Q750,460 765,442 L816,352 Q822,340 815,330 Z" fill="#fff" stroke="#bcbcbc" stroke-width="3"/><path d="M800,332 Q670,238 530,160 Q430,116 345,96 Q300,88 270,105 Q232,150 222,192 Q222,220 230,240 Q272,338 342,388 Q430,420 535,433 Q650,447 720,449 Q742,447 754,432 L801,352 Q806,342 800,332 Z" fill="none" stroke="#bcbcbc" stroke-width="5.5"/><path d="M262,110 Q300,165 335,180 L795,328" fill="none" stroke="#bcbcbc" stroke-width="2.8"/><path d="M1497,275 L960,272 Q925,274 905,296 Q875,335 852,390 Q840,420 850,445 Q860,465 885,480 Q1000,550 1070,580 Q1130,604 1200,607 Q1350,613 1497,613" fill="none" stroke="#bcbcbc" stroke-width="4"/><path d="M1497,288 L966,286 Q940,288 922,310 Q895,345 873,390 Q862,420 868,437 Q875,452 895,462 Q1010,532 1115,578 Q1160,592 1200,594 Q1350,599 1497,599" fill="none" stroke="#bcbcbc" stroke-width="4"/><path d="M1497,352 Q1350,352 1222,344 Q1050,334 912,322 Q893,348 873,390 Q862,420 868,437 Q875,452 895,462 Q1010,532 1115,578 Q1160,592 1200,594 Q1350,599 1497,599" fill="#bbbbbb" stroke="none" stroke-width="2.5"/><path d="M1497,796 L850,790 Q800,792 775,825 L712,915 Q696,940 712,962 Q735,978 800,990 L1050,1036 Q1270,1047 1497,1047" fill="none" stroke="#bcbcbc" stroke-width="4"/><path d="M1497,807 L860,803 Q815,806 795,838 L740,922 Q728,942 745,953 Q770,965 833,978 L1050,1023 Q1270,1032 1497,1032" fill="#bbbbbb" stroke="none" stroke-width="2.5"/><path d="M293,627 Q262,740 257,827 Q255,890 275,920 Q295,948 340,962 Q500,1005 667,1020 Q780,1030 890,1030 Q830,1045 795,1066 Q770,1080 740,1078 Q600,1072 467,1030 Q360,1000 310,975 Q255,940 238,890 Q225,840 240,770 Q260,690 293,627 Z" fill="#e0e0e0" stroke="none"/><path d="M385,748 Q560,762 745,797 Q600,786 430,760 Z M588,954 Q640,985 692,1000 Q630,992 565,956 Z" fill="#dcdcdc" stroke="none"/><path d="M319,862 Q322,820 347,780 Q365,755 395,753 L427,754 L587,777 Q628,790 645,830 Q658,870 645,910 Q630,945 595,952 Q575,955 555,951 L467,927 L347,894 Q318,885 319,862 Z" fill="none" stroke="#d6d6d6" stroke-width="16" transform="translate(-5,-4)"/><path d="M319,862 Q322,820 347,780 Q365,755 395,753 L427,754 L587,777 Q628,790 645,830 Q658,870 645,910 Q630,945 595,952 Q575,955 555,951 L467,927 L347,894 Q318,885 319,862 Z" fill="#bcbcbc" stroke="#b0b0b0" stroke-width="5"/><circle cx="563.5" cy="866" r="66" fill="url(#ringg)" stroke="#888" stroke-width="3"/><circle cx="563.5" cy="866" r="56" fill="#fff" stroke="#555" stroke-width="3"/></g><g transform="translate(2988,0) scale(-1,1)"><path d="M300,-140 Q275,-60 260,15 Q215,110 195,180 Q160,300 146,430 Q142,560 155,700 Q175,870 196,1000 Q205,1040 230,1052 L1485,1100 L1485,-140 Z" fill="#fff" stroke="none"/><path d="M228,1048 Q240,1060 262,1064 Q500,1094 740,1106 Q765,1106 790,1094 Q845,1072 905,1068 L1497,1068 L1497,1161 C1200,1161 800,1150 500,1126 L252,1099 Q236,1090 228,1048 Z" fill="#e2e2e2" stroke="none"/><path d="M1497,1068 L905,1068 Q845,1072 790,1094 Q765,1106 740,1106 Q500,1094 262,1064 Q240,1060 228,1048 Q236,1090 252,1099 L500,1126 C800,1150 1200,1161 1497,1161" fill="none" stroke="none" stroke-width="3.5"/><path d="M238,1084 Q500,1112 900,1130 Q1200,1137 1497,1137" fill="none" stroke="#f2f2f2" stroke-width="3"/><path d="M300,-140 Q275,-60 260,15 Q215,110 195,180 Q160,300 146,430 Q142,560 155,700 Q175,870 196,1000 Q205,1040 230,1052" fill="none" stroke="#bcbcbc" stroke-width="4.6"/><path d="M262,70 Q200,170 186,260 Q182,340 215,400 Q260,460 340,500 Q520,560 735,590 C1000,625 1250,641 1497,641" fill="none" stroke="#bcbcbc" stroke-width="3"/><path d="M462,-140 Q522,45 902,288 M662,-140 Q802,35 1097,272" fill="none" stroke="#cfcfcf" stroke-width="2.6"/><path d="M509,146 Q570,132 639,129 Q760,126 869,133 Q930,140 979,151 L1497,148" fill="none" stroke="#bcbcbc" stroke-width="2.8"/><path d="M379,-124 Q352,-95 348,-60 L342,0 L336,80" fill="none" stroke="#bcbcbc" stroke-width="3"/><path d="M800,316 L885,311 M640,205 L880,312 M560,170 L845,305" fill="none" stroke="#cfcfcf" stroke-width="1.8"/><path d="M815,330 Q680,230 535,150 Q430,105 345,85 Q310,76 290,80 Q265,85 255,97 Q215,150 206,190 Q205,220 216,242 Q260,350 336,400 Q430,432 535,446 Q650,460 725,462 Q750,460 765,442 L816,352 Q822,340 815,330 Z" fill="#fff" stroke="#bcbcbc" stroke-width="3"/><path d="M800,332 Q670,238 530,160 Q430,116 345,96 Q300,88 270,105 Q232,150 222,192 Q222,220 230,240 Q272,338 342,388 Q430,420 535,433 Q650,447 720,449 Q742,447 754,432 L801,352 Q806,342 800,332 Z" fill="none" stroke="#bcbcbc" stroke-width="5.5"/><path d="M262,110 Q300,165 335,180 L795,328" fill="none" stroke="#bcbcbc" stroke-width="2.8"/><path d="M1497,275 L960,272 Q925,274 905,296 Q875,335 852,390 Q840,420 850,445 Q860,465 885,480 Q1000,550 1070,580 Q1130,604 1200,607 Q1350,613 1497,613" fill="none" stroke="#bcbcbc" stroke-width="4"/><path d="M1497,288 L966,286 Q940,288 922,310 Q895,345 873,390 Q862,420 868,437 Q875,452 895,462 Q1010,532 1115,578 Q1160,592 1200,594 Q1350,599 1497,599" fill="none" stroke="#bcbcbc" stroke-width="4"/><path d="M1497,352 Q1350,352 1222,344 Q1050,334 912,322 Q893,348 873,390 Q862,420 868,437 Q875,452 895,462 Q1010,532 1115,578 Q1160,592 1200,594 Q1350,599 1497,599" fill="#bbbbbb" stroke="none" stroke-width="2.5"/><path d="M1497,796 L850,790 Q800,792 775,825 L712,915 Q696,940 712,962 Q735,978 800,990 L1050,1036 Q1270,1047 1497,1047" fill="none" stroke="#bcbcbc" stroke-width="4"/><path d="M1497,807 L860,803 Q815,806 795,838 L740,922 Q728,942 745,953 Q770,965 833,978 L1050,1023 Q1270,1032 1497,1032" fill="#bbbbbb" stroke="none" stroke-width="2.5"/><path d="M293,627 Q262,740 257,827 Q255,890 275,920 Q295,948 340,962 Q500,1005 667,1020 Q780,1030 890,1030 Q830,1045 795,1066 Q770,1080 740,1078 Q600,1072 467,1030 Q360,1000 310,975 Q255,940 238,890 Q225,840 240,770 Q260,690 293,627 Z" fill="#e0e0e0" stroke="none"/><path d="M385,748 Q560,762 745,797 Q600,786 430,760 Z M588,954 Q640,985 692,1000 Q630,992 565,956 Z" fill="#dcdcdc" stroke="none"/><path d="M319,862 Q322,820 347,780 Q365,755 395,753 L427,754 L587,777 Q628,790 645,830 Q658,870 645,910 Q630,945 595,952 Q575,955 555,951 L467,927 L347,894 Q318,885 319,862 Z" fill="none" stroke="#d6d6d6" stroke-width="16" transform="translate(-5,-4)"/><path d="M319,862 Q322,820 347,780 Q365,755 395,753 L427,754 L587,777 Q628,790 645,830 Q658,870 645,910 Q630,945 595,952 Q575,955 555,951 L467,927 L347,894 Q318,885 319,862 Z" fill="#bcbcbc" stroke="#b0b0b0" stroke-width="5"/><circle cx="563.5" cy="866" r="66" fill="url(#ringg)" stroke="#888" stroke-width="3"/><circle cx="563.5" cy="866" r="56" fill="#fff" stroke="#555" stroke-width="3"/></g><ellipse cx="318.5" cy="1031" rx="9" ry="13" fill="#fff" stroke="#aaa" stroke-width="2.6"/><ellipse cx="320.0" cy="1031" rx="5.7" ry="9.7" fill="none" stroke="#aaa" stroke-width="1.5"/><ellipse cx="390" cy="1048.5" rx="12" ry="12" fill="#fff" stroke="#aaa" stroke-width="2.6"/><ellipse cx="391.5" cy="1048.5" rx="8.7" ry="8.7" fill="none" stroke="#aaa" stroke-width="1.5"/><ellipse cx="942" cy="1048.5" rx="12" ry="12" fill="#fff" stroke="#aaa" stroke-width="2.6"/><ellipse cx="943.5" cy="1048.5" rx="8.7" ry="8.7" fill="none" stroke="#aaa" stroke-width="1.5"/><ellipse cx="2057.4" cy="1048.5" rx="12" ry="12" fill="#fff" stroke="#aaa" stroke-width="2.6"/><ellipse cx="2055.9" cy="1048.5" rx="8.7" ry="8.7" fill="none" stroke="#aaa" stroke-width="1.5"/><ellipse cx="2610.3" cy="1048.5" rx="12" ry="12" fill="#fff" stroke="#aaa" stroke-width="2.6"/><ellipse cx="2608.8" cy="1048.5" rx="8.7" ry="8.7" fill="none" stroke="#aaa" stroke-width="1.5"/><ellipse cx="2682.5" cy="1031" rx="9" ry="13" fill="#fff" stroke="#aaa" stroke-width="2.6"/><ellipse cx="2681.0" cy="1031" rx="5.7" ry="9.7" fill="none" stroke="#aaa" stroke-width="1.5"/></g>
<g id="tires" transform="translate(148,2416) scale(0.36969)" stroke-linecap="round" stroke-linejoin="round"><g><path d="M165,700 Q175,1000 205,1250 Q215,1318 265,1322 L500,1322 Q545,1316 552,1270 L562,1120 L562,1000 L200,900 Z" fill="#fff" stroke="none"/><path d="M165,700 Q175,1000 205,1250 Q215,1318 265,1322 L500,1322 Q545,1316 552,1270 L562,1120" fill="none" stroke="#231f20" stroke-width="4.6"/><path d="M222,1090 L232,1318 M282,1100 L290,1322 M343,1108 L348,1322 M407,1112 L410,1322 M470,1116 L468,1322 M530,1120 L524,1310" fill="none" stroke="#231f20" stroke-width="2.8"/></g><g transform="translate(2988,0) scale(-1,1)"><path d="M165,700 Q175,1000 205,1250 Q215,1318 265,1322 L500,1322 Q545,1316 552,1270 L562,1120 L562,1000 L200,900 Z" fill="#fff" stroke="none"/><path d="M165,700 Q175,1000 205,1250 Q215,1318 265,1322 L500,1322 Q545,1316 552,1270 L562,1120" fill="none" stroke="#231f20" stroke-width="4.6"/><path d="M222,1090 L232,1318 M282,1100 L290,1322 M343,1108 L348,1322 M407,1112 L410,1322 M470,1116 L468,1322 M530,1120 L524,1310" fill="none" stroke="#231f20" stroke-width="2.8"/></g></g>
</defs>

<!-- 12_defs_spoiler.svg -->
<defs>
<linearGradient id="spg1" gradientUnits="userSpaceOnUse" x1="205" y1="0" x2="1100" y2="0"><stop offset="0" stop-color="#b2b2b2"/><stop offset="0.25" stop-color="#cdcdcd"/><stop offset="0.55" stop-color="#dedede"/><stop offset="1" stop-color="#ebebeb"/></linearGradient>
<linearGradient id="spg2" gradientUnits="userSpaceOnUse" x1="160" y1="0" x2="1000" y2="0"><stop offset="0" stop-color="#d2d2d2"/><stop offset="0.5" stop-color="#dddddd"/><stop offset="1" stop-color="#e9e9e9"/></linearGradient>
<g id="spoiler9" transform="translate(148,1330) scale(0.36969)" stroke-linecap="round"><g><path d="M1467,352 L1300,350 Q1100,342 1000,335 Q860,315 760,295 L714,281 L712,257 L682,258 L614,238 Q600,242 585,262 Q565,285 522,286 Q450,275 400,255 Q340,232 310,215 Q295,205 292,196 L292,171 L215,155 L140,118 L132,112 Q132,160 138,200 Q148,270 160,320 Q178,390 200,445 L215,465 Q300,476 400,485 Q550,495 700,498 Q780,497 860,492 Q930,494 1000,496 L1467,500 Z" fill="#eeeeee" stroke="none"/><path d="M1467,352 L1300,350 Q1100,342 1000,335 Q860,315 760,295 L714,281 L712,257 L682,258 L614,238 Q600,242 585,262 Q565,285 522,286 Q450,275 400,255 Q340,232 310,215 Q295,205 292,196 L292,171 L215,155 L205,160 Q208,215 240,245 Q300,285 400,310 Q500,330 560,335 Q760,352 1000,376 L1467,386 Z" fill="url(#spg1)" stroke="none"/><path d="M160,318 Q300,360 400,385 Q500,410 560,428 Q680,448 740,445 Q790,432 860,428 L1000,425 L1467,425 L1467,405 L1000,400 Q760,378 560,360 Q400,340 300,312 Q220,290 155,285 Z" fill="url(#spg2)" stroke="none"/><path d="M150,282 Q300,300 400,330 Q500,350 560,356 Q760,372 1000,396 L1467,404" fill="none" stroke="#fafafa" stroke-width="5"/><path d="M1467,364 L1300,362 Q1100,354 1000,347 Q860,327 760,307 L700,290" fill="none" stroke="#fbfbfb" stroke-width="4"/><path d="M1467,352 L1300,350 Q1100,342 1000,335 Q860,315 760,295 L714,281 L712,257 L682,258 L614,238 Q600,242 585,262 Q565,285 522,286 Q450,275 400,255 Q340,232 310,215 Q295,205 292,196 L292,171 L215,155 L140,118 L132,112 Q132,160 138,200 Q148,270 160,320 Q178,390 200,445 L215,465 Q300,476 400,485 Q550,495 700,498 Q780,497 860,492 Q930,494 1000,496 L1467,500" fill="none" stroke="#231f20" stroke-width="4.2" stroke-linejoin="round"/><path d="M1467,358 L1300,356 Q1100,348 1000,341 Q860,321 760,301 L708,286 L706,264 L682,264 L614,245 Q602,250 590,268 Q568,292 522,293 Q450,282 400,262 Q340,239 310,222 Q290,210 286,198 L286,177 L215,162 L142,126" fill="none" stroke="#555" stroke-width="1.8"/></g><g transform="translate(2928.4,0) scale(-1,1)"><path d="M1467,352 L1300,350 Q1100,342 1000,335 Q860,315 760,295 L714,281 L712,257 L682,258 L614,238 Q600,242 585,262 Q565,285 522,286 Q450,275 400,255 Q340,232 310,215 Q295,205 292,196 L292,171 L215,155 L140,118 L132,112 Q132,160 138,200 Q148,270 160,320 Q178,390 200,445 L215,465 Q300,476 400,485 Q550,495 700,498 Q780,497 860,492 Q930,494 1000,496 L1467,500 Z" fill="#eeeeee" stroke="none"/><path d="M1467,352 L1300,350 Q1100,342 1000,335 Q860,315 760,295 L714,281 L712,257 L682,258 L614,238 Q600,242 585,262 Q565,285 522,286 Q450,275 400,255 Q340,232 310,215 Q295,205 292,196 L292,171 L215,155 L205,160 Q208,215 240,245 Q300,285 400,310 Q500,330 560,335 Q760,352 1000,376 L1467,386 Z" fill="url(#spg1)" stroke="none"/><path d="M160,318 Q300,360 400,385 Q500,410 560,428 Q680,448 740,445 Q790,432 860,428 L1000,425 L1467,425 L1467,405 L1000,400 Q760,378 560,360 Q400,340 300,312 Q220,290 155,285 Z" fill="url(#spg2)" stroke="none"/><path d="M150,282 Q300,300 400,330 Q500,350 560,356 Q760,372 1000,396 L1467,404" fill="none" stroke="#fafafa" stroke-width="5"/><path d="M1467,364 L1300,362 Q1100,354 1000,347 Q860,327 760,307 L700,290" fill="none" stroke="#fbfbfb" stroke-width="4"/><path d="M1467,352 L1300,350 Q1100,342 1000,335 Q860,315 760,295 L714,281 L712,257 L682,258 L614,238 Q600,242 585,262 Q565,285 522,286 Q450,275 400,255 Q340,232 310,215 Q295,205 292,196 L292,171 L215,155 L140,118 L132,112 Q132,160 138,200 Q148,270 160,320 Q178,390 200,445 L215,465 Q300,476 400,485 Q550,495 700,498 Q780,497 860,492 Q930,494 1000,496 L1467,500" fill="none" stroke="#231f20" stroke-width="4.2" stroke-linejoin="round"/><path d="M1467,358 L1300,356 Q1100,348 1000,341 Q860,321 760,301 L708,286 L706,264 L682,264 L614,245 Q602,250 590,268 Q568,292 522,293 Q450,282 400,262 Q340,239 310,222 Q290,210 286,198 L286,177 L215,162 L142,126" fill="none" stroke="#555" stroke-width="1.8"/></g></g>
<g id="edgeL" transform="translate(148,1330) scale(0.36969)" stroke-linecap="round"><path d="M160,172 Q178,175 175,192 Q172,212 160,232 Q150,250 152,265 Q158,300 165,330 Q175,380 185,420 Q200,440 214,452 Q218,462 205,465 Q185,460 165,462 L140,480 Q115,445 95,420 Q65,385 40,365 L20,355 Q45,325 60,310 Q85,280 100,255 Q115,225 125,205 Q135,180 160,172 Z" fill="#bebdbf" stroke="#231f20" stroke-width="4.5" stroke-linejoin="round"/><path d="M130,205 Q150,215 160,205 M110,300 Q100,330 90,345 M75,330 L62,355 M120,395 Q115,415 122,430 M150,420 Q148,440 158,455 M165,330 Q170,400 190,450" fill="none" stroke="#6a6a6a" stroke-width="2.2"/><path d="M22,372 L-10,395 M140,482 L95,555" fill="none" stroke="#231f20" stroke-width="4"/></g>
<g id="handAL" transform="translate(148,1330) scale(0.36969)" stroke-linecap="round"><path d="M303,655 Q306,600 310,560 Q316,530 318,500 Q310,470 312,445 Q316,432 324,432 Q335,440 342,455 Q348,470 350,482 Q362,470 375,455 Q395,430 420,400 Q450,370 480,348 Q492,340 498,346 Q504,354 498,366 Q485,385 468,402 Q495,375 525,350 Q535,344 541,352 Q548,362 543,376 Q525,402 498,432 Q522,410 548,390 Q557,386 562,396 Q566,410 545,432 Q520,460 488,492 Q520,468 550,446 Q562,440 568,450 Q572,460 564,472 Q545,495 520,520 Q495,550 470,580 Q450,610 430,640 L400,690 Z" fill="#bebdbf" stroke="#231f20" stroke-width="5" stroke-linejoin="round"/><path d="M415,462 L470,402" fill="none" stroke="#111" stroke-width="9"/><path d="M452,482 L500,432" fill="none" stroke="#111" stroke-width="8"/><path d="M478,508 L492,492" fill="none" stroke="#111" stroke-width="7"/><path d="M440,395 Q455,405 468,402 M465,415 Q478,428 492,425 M505,470 Q518,482 528,478 M325,505 Q332,520 330,535 M488,560 Q480,575 478,590" fill="none" stroke="#6a6a6a" stroke-width="2.2"/><path d="M303,655 L400,690" fill="none" stroke="#111" stroke-width="8"/><path d="M328,638 L322,655 M348,645 L342,662 M368,652 L362,670 M388,660 L382,677" fill="none" stroke="#6a6a6a" stroke-width="2.2"/><path d="M300,665 L185,895 M390,695 L295,925" fill="none" stroke="#231f20" stroke-width="4"/></g>
<g id="handBL" transform="translate(1241,2650) scale(0.36969)" stroke-linecap="round"><path d="M335,715 Q342,675 350,640 Q362,600 380,560 Q388,535 395,515 Q398,503 407,503 Q416,508 419,522 Q422,540 420,560 Q450,532 480,510 Q520,485 560,465 Q578,456 592,458 Q604,462 603,472 Q598,484 585,492 Q604,478 620,470 Q632,466 641,478 Q645,490 636,500 Q620,515 600,530 Q622,516 638,510 Q648,512 649,524 Q648,536 635,546 Q610,565 580,585 Q610,572 632,568 Q644,568 646,578 Q644,590 634,596 Q600,618 560,640 Q552,662 540,680 Q505,705 470,730 L420,775 Z" fill="#bebdbf" stroke="#231f20" stroke-width="5" stroke-linejoin="round"/><path d="M498,552 L585,494" fill="none" stroke="#111" stroke-width="9"/><path d="M520,582 L600,532" fill="none" stroke="#111" stroke-width="8"/><path d="M545,612 L582,587" fill="none" stroke="#111" stroke-width="7"/><path d="M498,552 L512,562" fill="none" stroke="#111" stroke-width="6"/><path d="M535,488 Q545,500 555,502 M560,512 Q570,525 582,524 M585,600 Q595,610 605,606 M395,575 Q402,585 400,600 M545,660 Q535,672 532,685" fill="none" stroke="#6a6a6a" stroke-width="2.2"/><path d="M335,715 L420,775" fill="none" stroke="#111" stroke-width="8"/><path d="M360,705 L350,722 M378,718 L368,735 M396,731 L386,748 M414,744 L404,761" fill="none" stroke="#6a6a6a" stroke-width="2.2"/><path d="M335,722 L155,925 M415,780 L285,945" fill="none" stroke="#231f20" stroke-width="4"/></g>
<g id="edgeB" stroke-linecap="round"><path d="M1300.1,2741.7 Q1307.5,2742 1307.1,2747.7 Q1307,2752 1305.7,2757 L1302,2768.1 Q1300.5,2771 1301.1,2774.5 L1305.7,2783.8 L1311.2,2796.7 L1314,2808.7 Q1315.5,2813.5 1317.7,2818 L1323.3,2826.3 Q1325,2830 1325.6,2833.7 L1326,2837.4 Q1329,2837.6 1332.5,2838.8 Q1336,2840.5 1338,2842.9 Q1339.5,2845 1338.5,2846.2 Q1336,2847.5 1333.4,2847.5 L1327.9,2848 Q1324.5,2849.5 1321.4,2851.2 L1314.9,2855.9 L1312.2,2857.7 L1268.7,2818.4 L1260.9,2824.4 Q1259.5,2823.8 1259.9,2822.6 Q1259.8,2818.5 1260.9,2815.2 Q1262.5,2811 1265,2807.8 L1272.4,2800.4 Q1275,2796.5 1277,2792.1 L1280.7,2780.1 L1284.4,2771.8 L1288.1,2763.4 Q1289.8,2758.5 1290.9,2753.3 Q1292.5,2748.5 1295.5,2744.5 Q1297.5,2742 1300.1,2741.7 Z" fill="#bebdbf" stroke="#231f20" stroke-width="1.9" stroke-linejoin="round"/><path d="M1291,2757 Q1296,2756 1300,2757.5 M1295,2773 Q1298,2774.5 1299.5,2777 M1284.5,2793 Q1283.5,2802 1274,2808 M1282,2826 Q1285,2818 1288.5,2814.5 M1296,2838 Q1298,2829 1301,2825.5 M1307,2810 Q1314,2822 1316.5,2838 Q1317,2846 1314,2852 M1307,2850 Q1309,2842 1311.5,2839" fill="none" stroke="#4a4a4a" stroke-width="0.9"/><path d="M1268.7,2818.8 Q1260,2828 1253,2834 M1312.5,2857.7 Q1305,2872 1299.5,2887" fill="none" stroke="#231f20" stroke-width="1.6"/></g>
</defs>

<!-- 20_p7.svg -->
<g id="p7" clip-path="url(#cp7)">
  <use href="#wheel7"/>
  <use href="#fender7"/>
  <use href="#carside"/>
  <path d="M203,407 L245.5,391.5 L245.5,423 Z" fill="#000"/>
  <use href="#drillbox"/>
  <path d="M524,753 L858,684.2" class="dash" stroke-width="6.2" stroke-dasharray="12.8 11.8"/>
  <path d="M893,675 L849.8,671.2 L856,698.2 Z" fill="#000"/>
  <path d="M919,670.2 L1004,670" class="dash" stroke-width="6.2" stroke-dasharray="12.5 12.5"/>
  <path d="M1043.5,668 L1002,654 L1002,682 Z" fill="#000"/>
  <use href="#screw7"/>
  <use href="#labelJ"/>
  <use href="#reuse"/>
</g>

<!-- 21_p8.svg -->
<g id="p8" clip-path="url(#cp8)">
  <g transform="translate(2482,0) scale(-1,1)">
    <use href="#wheel7"/>
    <use href="#fender7"/>
    <use href="#carside"/>
    <path d="M203,407 L245.5,391.5 L245.5,423 Z" fill="#000"/>
    <path d="M524,753 L858,684.2" class="dash" stroke-width="6.2" stroke-dasharray="12.8 11.8"/>
    <path d="M893,675 L849.8,671.2 L856,698.2 Z" fill="#000"/>
    <path d="M919,670.2 L1004,670" class="dash" stroke-width="6.2" stroke-dasharray="12.5 12.5"/>
    <path d="M1043.5,668 L1002,654 L1002,682 Z" fill="#000"/>
    <use href="#screw7"/>
  </g>
  <use href="#drillbox" transform="translate(1777,0)"/>
  <use href="#reuse" transform="translate(289,0)"/>
  <use href="#labelJ" transform="translate(330,0)"/>
</g>

<!-- 30_p9.svg -->
<g id="p9" clip-path="url(#cp9)">
  <g clip-path="url(#cp9b)">
  <use href="#tires" transform="translate(-11,-1558.6)"/>
  <use href="#carN" transform="translate(-11,-1558.6)"/>
  </g>
  <g fill="#929497">
    <path d="M350.6,1284 L338.6,1379 L346.6,1379 L346.6,1489 L354.6,1489 L354.6,1379 L362.6,1379 Z"/>
    <path d="M710.7,1301 L698.7,1394.7 L706.7,1394.7 L706.7,1511 L714.7,1511 L714.7,1394.7 L722.7,1394.7 Z"/>
    <path d="M1049,1284 L1037,1379 L1045,1379 L1045,1457 L1053,1457 L1053,1379 L1061,1379 Z"/>
  </g>
  <use href="#spoiler9" opacity="0.82"/>
  <use href="#edgeB" transform="translate(206.8,1393.4) rotate(8.4) translate(-1300.1,-2741.7)"/><use href="#edgeB" transform="translate(1381,0) scale(-1,1) translate(206.8,1393.4) rotate(8.4) translate(-1300.1,-2741.7)"/>
  <use href="#handAL"/><use href="#handAL" transform="translate(1382.6,0) scale(-1,1)"/>
  <circle cx="709.2" cy="1561" r="30" fill="#fff" stroke="#231f20" stroke-width="2.6"/>
  <text x="709.2" y="1576.5" class="sans" font-size="44" text-anchor="middle" fill="#231f20" stroke="#fff" stroke-width="0.5">A</text>
</g>

<!-- 40_p10.svg -->
<g id="p10" clip-path="url(#cp10)">
  <use href="#tires" transform="translate(1439.7,1310.1) scale(1.0195) translate(-355.6,-2736.2)"/>
  <use href="#carN" transform="translate(1439.7,1310.1) scale(1.0195) translate(-355.6,-2736.2)"/>
  <use href="#spoiler9" transform="translate(1790,1284.9) scale(1.0195) translate(-689.3,-1371.4)"/>
  <!-- dashed line along spoiler top edge -->
  <g transform="translate(1790,1284.9) scale(1.0195) translate(-689.3,-1371.4)">
   <g transform="translate(148,1330) scale(0.36969)" fill="none" stroke="#231f20" stroke-width="11" stroke-dasharray="30 13">
    <path id="sptop" d="M1464,352 L1300,350 Q1100,342 1000,335 Q860,315 760,295 L714,281 L712,257 L682,258 L614,238 Q600,242 585,262 Q565,285 522,286 Q450,275 400,255 Q340,232 310,215 Q295,205 292,196 L292,171 L215,155 L140,118"/>
    <use href="#sptop" transform="translate(2928.4,0) scale(-1,1)"/>
   </g>
  </g>
  <use href="#edgeB" transform="translate(0,-1421)"/><use href="#edgeB" transform="translate(3578,-1421) scale(-1,1)"/>
  <use href="#handBL" transform="translate(0,-1421)"/><use href="#handBL" transform="translate(3578,-1421) scale(-1,1)"/>
  <!-- pencil hand: local zoom origin (1241,1230) scale 2.705 -->
  <g transform="translate(1241,1230) scale(0.36969)" stroke="#231f20" stroke-width="4" stroke-linejoin="round" stroke-linecap="round">
    <path d="M365,1133 L870,890 Q930,850 960,780 Q975,730 1000,670 Q1010,650 1080,612 Q1150,580 1190,570 Q1212,572 1220,600 Q1232,640 1262,672 Q1285,705 1300,740 Q1308,770 1296,800 Q1302,830 1290,850 Q1275,858 1260,855 Q1250,880 1235,895 Q1220,915 1208,905 Q1195,880 1208,850 Q1180,862 1160,885 Q1100,940 1000,1000 L710,1160" fill="#fff"/>
    <rect x="762" y="735" width="640" height="33" rx="16" fill="#fff"/>
    <path d="M1395,737 L1462,755 L1395,768 Z" fill="#fff"/>
    <path d="M1168,640 Q1165,600 1175,580 M1100,650 Q1120,690 1160,700 Q1200,720 1225,735 M1060,700 Q1080,730 1100,735 M1240,660 Q1270,700 1285,730" fill="none" stroke-width="3"/>
    <path d="M1100,768 Q1160,770 1200,745 Q1240,728 1262,735 Q1290,730 1300,745 Q1308,765 1298,785 Q1285,790 1270,780 Q1255,760 1250,740" fill="#fff" stroke-width="3"/>
    <path d="M1215,850 Q1230,820 1258,815 Q1290,815 1295,800 M1215,890 Q1225,850 1250,840 Q1262,845 1255,860" fill="none" stroke-width="3"/>
  </g>
  <path d="M1786,1509.7 H1874.7 V1372.5" fill="none" stroke="#231f20" stroke-width="3" stroke-dasharray="12 6"/>
  <circle cx="1760.4" cy="1553.5" r="26" fill="#3a3a3a" stroke="#231f20" stroke-width="2"/>
  <path d="M1749,1542 L1772,1565 M1772,1542 L1749,1565" stroke="#fff" stroke-width="3.2" fill="none"/>
  <circle cx="2061" cy="1475.2" r="30" fill="#fff" stroke="#231f20" stroke-width="2.6"/>
  <text x="2061" y="1490.7" class="sans" font-size="44" text-anchor="middle" fill="#231f20" stroke="#fff" stroke-width="0.5">A</text>
</g>

<!-- 50_p11.svg -->
<defs>
<linearGradient id="trg" x1="0" y1="0" x2="1" y2="0"><stop offset="0" stop-color="#fff"/><stop offset="0.62" stop-color="#fff"/><stop offset="0.8" stop-color="#d4d5d6"/><stop offset="0.9" stop-color="#96979a"/><stop offset="1" stop-color="#4b4b4d"/></linearGradient>
<clipPath id="cpd"><circle cx="1115.2" cy="2165.4" r="113"/></clipPath>
<path id="dotL" d="M185,1888 L230,1905 Q240,1920 262,1929 L321,1946.5 Q340,1947 366,1934 L383,1939 Q400,1948 425,1956 Q480,1968 555,1973 Q620,1976 676,1976"/>
</defs>
<g id="p11" clip-path="url(#cp11)">
  <use href="#carF" transform="translate(-25.5,-821.8)"/>
  <!-- callout -->
  <path d="M454,1680 H895 Q929.7,1680 929.7,1715 V1802.5 Q929.7,1837.5 895,1837.5 H730.8 L762.2,1959 L622.4,1837.5 H454 Q419,1837.5 419,1802.5 V1715 Q419,1680 454,1680 Z" fill="#fff" stroke="#231f20" stroke-width="4.6" stroke-dasharray="9.5 7"/>
  <!-- packet & pad: local zoom origin (400,1677) scale 2.898 -->
  <g transform="translate(400,1677) scale(0.34507)" stroke-linejoin="round" stroke-linecap="round">
    <path d="M155,203 L245,268 L180,365 L88,290 Z" fill="#b5b8bf" stroke="#111" stroke-width="8"/>
    <path d="M88,290 L100,312 L180,372 L180,365" fill="none" stroke="#111" stroke-width="6"/>
    <path d="M378,183 L598,183 L598,400 L378,400 Z" fill="#fff" stroke="#222" stroke-width="4"/>
    <path d="M400,195 L575,195 L575,378 L400,378 Z" fill="none" stroke="#444" stroke-width="3"/>
    <path d="M378,183 L385,140 L440,70 L650,98 L590,160 L598,183" fill="#fff" stroke="#222" stroke-width="4"/>
    <path d="M420,120 L455,88 L620,110 L585,150 Z" fill="none" stroke="#555" stroke-width="3"/>
    <path d="M460,125 Q520,118 585,140" fill="none" stroke="#888" stroke-width="14"/>
    <circle cx="488" cy="245" r="55" fill="none" stroke="#999" stroke-width="6"/>
    <path d="M420,262 L545,262" stroke="#222" stroke-width="6"/>
    <path d="M440,240 Q480,225 540,238 M445,278 L530,272 M425,345 L545,345" stroke="#555" stroke-width="3" fill="none"/>
    <path d="M430,182 Q420,120 380,75 Q320,30 265,70 Q225,110 215,175" fill="none" stroke="#8d9499" stroke-width="17"/>
    <path d="M190,165 L240,178 L205,238 Z" fill="#8d9499" stroke="#8d9499" stroke-width="4"/>
  </g>
  <circle cx="662.9" cy="1725.3" r="30.6" fill="#fff" stroke="#231f20" stroke-width="2.6"/>
  <path d="M650.5,1707.5 V1743.5 M675.5,1707.5 V1743.5 M650.5,1725.3 H675.5" fill="none" stroke="#231f20" stroke-width="2.6"/>
  <g class="sans" fill="#231f20">
    <text x="703.7" y="1758.8" font-size="26" textLength="205" lengthAdjust="spacingAndGlyphs">Use from normal</text>
    <text x="704.3" y="1788.1" font-size="26" textLength="149.5" lengthAdjust="spacingAndGlyphs">temperature</text>
    <text x="703.7" y="1817.8" font-size="20.5" textLength="214" lengthAdjust="spacingAndGlyphs" xml:space="preserve">MIN  18°C / MAX  30°C</text>
  </g>
  <!-- dotted contour -->
  <g fill="none" stroke="#414042" stroke-width="11" stroke-dasharray="8.8 7.5">
    <use href="#dotL"/><use href="#dotL" transform="translate(1349.6,0) scale(-1,1)"/>
  </g>
  <!-- grey down arrows -->
  <g fill="#929497">
    <path d="M535.9,2070 H543.5 V2246.7 H551.1 L539.7,2352 L528.3,2246.7 H535.9 Z"/>
    <path d="M826.4,2060 H834 V2247.2 H841.6 L830.2,2349.3 L818.8,2247.2 H826.4 Z"/>
  </g>
  <!-- thin dashed to trash -->
  <path d="M770.8,2012 V2143 H462" fill="none" stroke="#111" stroke-width="3" stroke-dasharray="9.5 5"/>
  <path d="M397.1,2142.2 L459.6,2124.2 L459.6,2160.2 Z" fill="#000"/>
  <!-- hand with applicator: local zoom origin (688,1860) scale 2.898 -->
  <g transform="translate(688,1860) scale(0.34507)" stroke-linejoin="round" stroke-linecap="round">
    <path d="M180,410 L230,355 L300,378 L270,450 Z" fill="#6d6e71" stroke="#111" stroke-width="8"/>
    <path d="M180,410 L188,428 L268,462 L270,450" fill="#333" stroke="#111" stroke-width="5"/>
    <path d="M812,690 L915,790 M680,815 L780,940" fill="none" stroke="#111" stroke-width="6"/>
    <path d="M272,420 Q270,395 295,382 Q330,368 420,355 Q455,340 480,330 Q505,322 530,330 Q570,350 600,370 Q635,385 650,400 Q675,420 690,450 Q715,510 740,570 Q755,605 775,635 L812,680 L660,818 L640,790 Q600,765 560,740 Q515,695 470,650 Q440,620 410,590 Q380,555 350,520 Q330,495 310,470 Q285,445 272,420 Z" fill="#c2c0c2" stroke="#111" stroke-width="7"/>
    <path d="M300,410 Q360,385 430,400 M330,450 Q345,480 380,490 M395,470 Q420,430 470,420 M440,380 Q470,395 500,420 M490,440 Q510,410 545,400 M520,350 Q560,375 590,435 M470,475 Q500,500 540,495 M455,540 Q460,580 455,625 M470,560 Q490,545 495,535 M480,580 Q485,600 485,625 M360,495 L365,520" fill="none" stroke="#222" stroke-width="3.5"/>
    <path d="M770,652 L800,690 M742,680 L772,718 M708,712 L742,750 M678,742 L712,778 M652,770 L685,805" fill="none" stroke="#222" stroke-width="4"/>
  </g>
  <!-- curved dark arrow -->
  <g transform="translate(688,1860) scale(0.34507)">
    <path d="M1395,85 Q1525,190 1492,340 Q1482,385 1468,418" fill="none" stroke="#636466" stroke-width="26"/>
    <path d="M1415,322 L1462,420 L1578,425 L1370,572 Z" fill="#636466"/>
  </g>
  <!-- detail circle -->
  <circle cx="1115.2" cy="2165.4" r="113" fill="#fff"/>
  <g clip-path="url(#cpd)">
    <rect x="1000" y="2177.5" width="232" height="110" fill="#c8cacf"/>
    <path d="M1077.9,2178 l-40,88 M1062.4,2178 l-40,88 M1046.9,2178 l-40,88 M1031.3,2178 l-40,88 M1015.8,2178 l-40,88" stroke="#333" stroke-width="1.6" fill="none"/>
    <path d="M1000,2177.5 H1232" stroke="#333" stroke-width="2.6"/>
    <path d="M1015,2122.9 H1225" stroke="#231f20" stroke-width="12" stroke-dasharray="19 18.5" stroke-linecap="round"/>
  </g>
  <circle cx="1115.2" cy="2165.4" r="113" fill="none" stroke="#333" stroke-width="2.8"/>
  <g class="sans" fill="#231f20" font-size="31">
    <text x="1073.8" y="2164.3" textLength="83" lengthAdjust="spacingAndGlyphs">3 mm</text>
    <text x="1081.4" y="2235.4" textLength="98.5" lengthAdjust="spacingAndGlyphs">10 mm</text>
  </g>
  <!-- trash icon -->
  <rect x="167.2" y="2043.7" width="209.7" height="210.3" rx="15" fill="url(#trg)" stroke="#414042" stroke-width="6"/>
  <g transform="translate(148,2000) scale(0.34507)" fill="#404041">
    <circle cx="275" cy="217" r="50"/>
    <path d="M215,262 L335,262 Q360,275 370,320 L378,355 L420,357 Q437,365 435,385 Q432,402 415,408 L350,410 Q340,395 335,380 L330,440 L370,650 Q365,685 335,695 Q310,690 300,665 L272,555 L245,665 Q235,690 210,693 Q180,685 178,655 L215,440 L212,380 L190,455 Q175,475 158,462 Q145,450 150,430 L185,290 Q195,268 215,262 Z"/>
    <path d="M392,437 L438,437 L438,615 Q450,600 468,605 Q480,620 492,612 Q505,625 520,615 L538,615 L538,437 L583,437 L583,680 Q580,695 565,697 L410,697 Q395,695 392,680 Z"/>
    <path d="M445,400 L475,405 L495,425 L478,475 L440,455 L428,430 Z M455,490 L485,495 L500,520 L490,555 L455,560 L440,525 Z"/>
  </g>
  <!-- small spoiler -->
  <use href="#spoiler9" transform="translate(675,2281.2) scale(0.868) translate(-689.3,-1371.4)"/>
  <circle cx="669.7" cy="2315.7" r="30" fill="#fff" stroke="#231f20" stroke-width="2.6"/>
  <text x="669.7" y="2331.2" class="sans" font-size="44" text-anchor="middle" fill="#231f20" stroke="#fff" stroke-width="0.5">A</text>
</g>

<!-- 55_p12.svg -->
<defs>
<clipPath id="cpinfo"><rect x="1906.8" y="2042.2" width="404.2" height="337.5" rx="40"/></clipPath>
<marker id="oh" viewBox="0 0 20 20" refX="16" refY="10" markerWidth="7" markerHeight="7" orient="auto" markerUnits="strokeWidth"><path d="M4,2 L17,10 L4,18" fill="none" stroke="#111" stroke-width="3.2" stroke-linecap="round" stroke-linejoin="miter"/></marker>
</defs>
<g id="p12" clip-path="url(#cp12)">
 <g transform="translate(1241,1677) scale(0.34507)" stroke-linejoin="round" stroke-linecap="round">
  <!-- trash can -->
  <g fill="#fff" stroke="#111">
    <path d="M410,340 L435,690 Q432,720 445,735 Q520,800 610,800 Q700,800 770,735 Q785,720 780,690 L810,340 Z" stroke-width="9"/>
    <path d="M435,690 Q610,760 780,690" fill="none" stroke-width="6"/>
    <path d="M432,345 L455,650 Q475,670 495,655 L490,380 M495,655 Q530,695 565,670 L562,395 M565,670 Q610,700 655,672 L655,395 M655,672 Q690,690 722,660 L730,380 M722,660 Q745,672 765,650 L790,345" fill="none" stroke-width="4.5"/>
    <ellipse cx="610" cy="285" rx="230" ry="105" stroke-width="9"/>
    <ellipse cx="610" cy="268" rx="222" ry="100" stroke-width="5"/>
    <ellipse cx="610" cy="245" rx="212" ry="92" stroke-width="5"/>
    <ellipse cx="610" cy="236" rx="188" ry="76" stroke-width="4"/>
    <path d="M475,205 Q470,192 495,190 L530,185 Q545,180 555,160 Q565,140 590,138 L640,138 Q660,142 668,160 Q680,185 700,190 L735,198 Q752,205 745,218 Q735,225 715,222 L690,212 Q665,200 655,178 Q648,165 635,165 L592,165 Q580,168 575,180 Q560,205 530,212 L495,220 Q478,218 475,205 Z" stroke-width="6"/>
  </g>
  <!-- long arrows -->
  <path d="M875,855 Q1010,690 940,520 Q905,445 845,405" fill="none" stroke="#111" stroke-width="9" marker-end="url(#oh)"/>
  <path d="M2163,487 Q1500,500 868,325" fill="none" stroke="#111" stroke-width="9" marker-end="url(#oh)"/>
  <!-- tape pieces -->
  <path d="M655,875 L760,868 L840,850 Q852,860 850,875 L760,900 L745,930 L660,930 Q645,920 645,905 Z" fill="#b0b0b0" stroke="#8a8a8a" stroke-width="3"/>
  <path d="M2205,465 L2355,405 L2390,405 Q2412,418 2410,432 L2395,450 L2335,490 L2310,475 L2210,495 Z" fill="#b0b0b0" stroke="#8a8a8a" stroke-width="3"/>
  <!-- spoiler body -->
  <path d="M40,1243 L100,1225 L400,1100 L495,1060 L505,1060 L510,1090 L540,1100 Q620,1085 700,1065 Q770,1045 830,1025 Q860,1010 870,1000 L885,975 L975,955 L985,965 L1000,980 L1050,970 Q1340,908 1623,840 Q1745,806 1865,770 Q1990,728 2105,685 L2155,660 L2165,635 L2255,605 L2275,625 L2305,635 L2365,625 Q2490,588 2605,545 L2630,520 L2630,480 L2665,470 Q2850,438 3025,415 L3125,405 L3110,470 L3065,640 L3015,850 L2975,895 Q2900,872 2815,870 Q2740,852 2665,848 Q2560,836 2415,830 Q2300,842 2215,860 Q2120,878 2065,880 L2005,880 L1985,905 L1935,905 Q1800,950 1715,975 L1665,985 L1595,990 L1570,1020 Q1450,1050 1340,1075 L1320,1060 L1280,1070 L1275,1100 L1255,1100 L1250,1085 L1200,1100 Q1170,1120 1150,1140 Q1050,1180 960,1210 Q920,1228 880,1250 L860,1255 Q780,1310 700,1370 Q670,1388 640,1400 Q620,1418 600,1440 L560,1475 Q530,1495 500,1510 Q470,1535 450,1560 L420,1590 L375,1590 L60,1300 Z" fill="#fff" stroke="#111" stroke-width="7.5"/>
  <g fill="none" stroke="#111" stroke-width="3.5">
    <path d="M40,1243 L135,1265 L420,1590 M135,1265 Q300,1200 400,1150"/>
    <path d="M300,1450 Q560,1280 800,1160 Q1000,1075 1250,1010 Q1500,950 1865,880 Q2200,790 2460,725 M2695,705 Q2850,700 2995,718"/>
    <path d="M390,1145 Q500,1130 700,1085 Q900,1040 1000,1005"/>
    <path d="M1100,1040 Q1600,915 1865,840 Q2300,735 2625,560"/>
    <path d="M600,1440 Q900,1250 1150,1150 Q1500,1040 1865,960 Q2200,860 2500,790 Q2800,760 2960,860"/>
    <path d="M3125,405 L3075,440 L3035,650 L2980,890 M2175,680 L2625,560"/>
    <path d="M1360,1060 L1580,1005 M1730,960 L1930,895 M2020,868 L2200,850"/>
    <circle cx="75" cy="1265" r="10"/><circle cx="205" cy="1385" r="10"/><circle cx="3095" cy="440" r="10"/><circle cx="3052" cy="610" r="10"/>
    <path d="M845,1240 L905,1212 L915,1225 L860,1250 Z M600,1420 L640,1395 L650,1410 L612,1432 Z M2320,838 L2420,812 L2430,830 Z M2680,848 L2715,838 L2735,850"/>
  </g>
  <!-- rim black band -->
  <g fill="none" stroke="#111" stroke-width="14">
    <path d="M60,1240 L400,1098 L495,1058"/>
    <path d="M540,1098 L700,1063 L830,1023 Q860,1008 870,998"/>
    <path d="M995,978 L1050,968 L1623,838 L1865,768 L2105,683 L2150,662"/>
    <path d="M2305,633 L2365,623 L2605,543 L2628,522"/>
    <path d="M2640,478 L2665,468 L3025,413 L3120,403"/>
  </g>
  <path d="M885,975 L975,955 L985,975 L930,990 L925,1000 L890,1005 Z M2165,635 L2255,605 L2275,628 L2240,640 L2235,650 L2170,662 Z" fill="#333" stroke="#111" stroke-width="4"/>
  <path d="M380,1130 L495,1070 L505,1092 L395,1140 Z M2635,490 L2770,478 L2755,505 L2640,528 Z" fill="#444" stroke="#111" stroke-width="3"/>
  <!-- grey tape strips -->
  <g fill="#bdbdbd" stroke="#222" stroke-width="3.5">
    <path d="M75,1188 L130,1180 L152,1198 L388,1090 L418,1040 L446,1046 L412,1106 L142,1224 L100,1212 Z"/>
    <path d="M1010,928 L1028,920 L1058,962 L1623,832 L1865,762 L2100,680 L2108,628 L2126,632 L2120,692 L1865,778 L1623,848 L1050,976 Z"/>
    <path d="M2675,440 L2700,425 L2745,462 L3020,408 L3045,380 L3085,388 L3035,425 L2745,480 Z"/>
  </g>
  <!-- clips -->
  <g stroke="#222" stroke-width="4">
    <path d="M540,1215 L735,1128 Q750,1128 755,1140 L778,1205 Q778,1218 768,1222 L600,1308 Q582,1312 575,1298 L540,1232 Q536,1222 540,1215 Z" fill="#a9a9a9"/>
    <path d="M2458,660 L2672,630 Q2688,634 2690,650 L2685,730 Q2682,742 2668,742 L2478,755 Q2468,752 2466,742 L2458,680 Z" fill="#a9a9a9"/>
    <g fill="#d8d8d8" stroke-width="3">
      <path d="M560,1215 L590,1200 L600,1225 L570,1240 Z M640,1205 L672,1192 L678,1212 L648,1226 Z M695,1150 L728,1135 L735,1158 L702,1172 Z"/>
      <path d="M580,1255 L640,1228 L652,1262 L598,1290 Z M685,1205 L745,1178 L755,1205 L700,1232 Z"/>
      <path d="M2475,662 L2510,658 L2512,680 L2478,684 Z M2555,682 L2592,678 L2594,698 L2557,702 Z M2620,645 L2655,640 L2658,662 L2622,666 Z"/>
      <path d="M2475,695 L2530,690 L2535,730 L2480,736 Z M2595,688 L2650,682 L2655,722 L2600,728 Z"/>
    </g>
    <circle cx="610" cy="1246" r="17" fill="#222"/><circle cx="718" cy="1192" r="17" fill="#222"/>
    <circle cx="2505" cy="706" r="16" fill="#222"/><circle cx="2625" cy="697" r="16" fill="#222"/>
    <path d="M1180,972 L1215,960 L1228,995 L1195,1008 Z M1968,755 L2000,742 L2010,785 L1975,798 Z" fill="#eee" stroke-width="3"/>
    <circle cx="1197" cy="985" r="12" fill="#555"/><circle cx="1988" cy="768" r="12" fill="#555"/>
  </g>
  <!-- small curved arrows -->
  <g fill="none" stroke="#111" stroke-width="11">
    <path d="M35,1215 Q18,1160 78,1142"/><path d="M480,1025 Q470,985 412,1000"/>
    <path d="M935,940 Q920,895 868,905"/><path d="M980,920 Q975,870 1040,862"/>
    <path d="M2150,610 Q2135,560 2078,585"/><path d="M2195,600 Q2185,540 2245,526"/>
    <path d="M2627,440 Q2620,390 2685,382"/><path d="M3110,378 Q3095,325 3038,338"/>
  </g>
  <g fill="#111">
    <path d="M120,1130 L70,1125 L85,1165 Z"/><path d="M368,1022 L415,980 L425,1022 Z"/>
    <path d="M822,912 L868,880 L878,925 Z"/><path d="M1082,860 L1035,840 L1038,885 Z"/>
    <path d="M2033,608 L2078,565 L2090,610 Z"/><path d="M2282,518 L2235,500 L2242,545 Z"/>
    <path d="M2728,380 L2680,358 L2685,405 Z"/><path d="M2995,350 L3040,315 L3050,360 Z"/>
  </g>
 </g>
 <circle cx="1757.9" cy="2088.6" r="30" fill="#fff" stroke="#231f20" stroke-width="2.6"/>
 <text x="1757.9" y="2104.1" class="sans" font-size="44" text-anchor="middle" fill="#231f20" stroke="#fff" stroke-width="0.5">A</text>
 <!-- info box -->
 <rect x="1906.8" y="2042.2" width="404.2" height="337.5" rx="40" fill="#e8e9ed"/>
 <g clip-path="url(#cpinfo)">
  <g transform="translate(1890,2030) scale(0.27111)" stroke-linejoin="round" stroke-linecap="round">
    <path d="M1040,832 L1120,868 L500,1115 L455,1090 Z" fill="#a9acb5"/>
    <path d="M445,880 Q425,1000 440,1060 Q460,1100 500,1113" fill="none" stroke="#9499a6" stroke-width="22"/>
    <path d="M320,1160 L455,1095 L555,1120 L385,1180 Z M385,1180 L500,1113" fill="none" stroke="#555" stroke-width="3"/>
    <path d="M520,1120 L630,1152 M375,1180 L488,1212" fill="none" stroke="#111" stroke-width="6"/>
    <path d="M445,1192 L555,1147 M445,1192 L470,1170 M445,1192 L478,1196 M555,1147 L522,1144 M555,1147 L532,1170" fill="none" stroke="#333" stroke-width="3"/>
    <path d="M1330,40 L735,582 L440,575 Q400,585 395,610 Q345,625 340,680 Q330,750 318,830 Q330,900 385,990 Q410,1020 440,1018 Q470,1015 490,995 Q540,960 560,940 Q600,895 680,880 Q760,850 870,745 L1560,310 L1560,40 Z" fill="#fff" stroke="#1a2a2a" stroke-width="7"/>
    <path d="M395,730 Q440,770 470,790 Q500,815 495,860 Q480,890 455,905 Q430,960 430,1000 M370,745 Q410,770 440,775 M380,790 Q400,800 420,790 M365,840 Q385,850 400,835 Q420,800 445,780 M400,835 Q410,880 420,910 Q400,925 385,935 M410,840 L480,865 M420,715 Q450,750 480,775 M470,930 Q510,925 530,945 Q500,965 470,955 Q455,945 470,930 M440,965 Q470,960 500,970" fill="none" stroke="#1a2a2a" stroke-width="4"/>
    <path d="M150,1180 Q230,1150 250,1020 L225,1025 L285,900 L308,1022 L280,1020 Q270,1170 200,1200 Z" fill="#5f6368"/>
  </g>
 </g>
 <rect x="1906.8" y="2042.2" width="404.2" height="337.5" rx="40" fill="none" stroke="#1a2224" stroke-width="3"/>
 <g class="sans" fill="#231f20">
   <text x="1928.8" y="2084.2" font-size="31" textLength="244" lengthAdjust="spacingAndGlyphs">Use from normal</text>
   <text x="1928.8" y="2124.9" font-size="31" textLength="196" lengthAdjust="spacingAndGlyphs">temperature -</text>
   <text x="1944.2" y="2163.4" font-size="27" textLength="158.6" lengthAdjust="spacingAndGlyphs">18°C ∼ 30°C</text>
   <text x="2071.1" y="2367.5" font-size="36" textLength="95" lengthAdjust="spacingAndGlyphs">30mm</text>
 </g>
</g>

<!-- 60_p13.svg -->
<g id="p13" clip-path="url(#cp13)">
  <use href="#carN"/>
  <g class="dash" stroke-width="6.6" stroke-dasharray="11.8 9.3">
    <path d="M265.6,2849 V2953.8"/><path d="M294.4,2852 V2953.8"/><path d="M496.2,2851 V2953.8"/>
    <path d="M908.6,2851 V2953.8"/><path d="M1113,2852 V2953.8"/><path d="M1139.7,2849 V2953.8"/>
    <path d="M262.3,2953.8 H1143"/>
    <path d="M704.4,2957 V3045.4"/>
    <path d="M707.7,3045.4 H388"/>
    <circle cx="306.2" cy="3059.1" r="83.2"/>
  </g>
  <g fill="#000">
    <path d="M265.6,2807.7 L252,2849 L279.3,2849 Z"/><path d="M294.4,2811.4 L280.7,2852.6 L308,2852.6 Z"/><path d="M496.2,2809.6 L482.5,2851 L509.9,2851 Z"/>
    <path d="M908.6,2809.6 L894.9,2851 L922.3,2851 Z"/><path d="M1113,2811.4 L1099.3,2852.6 L1126.7,2852.6 Z"/><path d="M1139.7,2807.7 L1126,2849 L1153.4,2849 Z"/>
  </g>
  <!-- clip G: local = zoom origin (148,2780) scale 2.705 -->
  <g transform="translate(148,2780) scale(0.36969)" stroke="#333" stroke-width="3" stroke-linejoin="round">
    <path d="M455,665 Q500,645 530,660 Q540,670 530,690 L490,705 Z" fill="#c5c8ce"/>
    <path d="M490,715 Q530,690 552,700 Q565,730 540,765 L505,790 Z" fill="#c5c8ce"/>
    <path d="M470,670 L520,655 M478,680 L530,663 M486,692 L534,675 M505,725 L550,705 M510,740 L555,720 M512,755 L552,738 M512,770 L545,755" fill="none" stroke="#888" stroke-width="2"/>
    <ellipse cx="402" cy="768" rx="104" ry="137" transform="rotate(-14 402 768)" fill="#b9bcc3"/>
    <ellipse cx="396" cy="770" rx="97" ry="130" transform="rotate(-14 396 770)" fill="#b9bcc3" stroke="#666" stroke-width="2"/>
    <ellipse cx="398" cy="775" rx="40" ry="52" transform="rotate(-14 398 775)" fill="#aeb1b8"/>
    <ellipse cx="402" cy="777" rx="30" ry="42" transform="rotate(-14 402 777)" fill="#b9bcc3" stroke="#555" stroke-width="2"/>
    <path d="M385,772 L425,755" stroke="#333" stroke-width="9" stroke-linecap="round"/>
    <path d="M385,772 L425,755" stroke="#d5d7db" stroke-width="5" stroke-linecap="round"/>
  </g>
  <circle cx="420.8" cy="3107.2" r="30.8" fill="#fff" stroke="#231f20" stroke-width="2.6"/>
  <text x="420.8" y="3125" class="sans" font-size="50" text-anchor="middle" fill="#231f20" stroke="#fff" stroke-width="1.2">G</text>
</g>

<!-- 70_p14.svg -->
<g id="p14" clip-path="url(#cp14)">
  <use href="#car14" transform="translate(1439.3,2549.5) scale(1.0195) translate(-355.6,-2736.2)"/>
  <g fill="#929497" opacity="0.93">
    <path d="M1487,2603 L1477,2689 L1483,2689 L1483,2757 L1491,2757 L1491,2689 L1497,2689 Z"/>
    <path d="M1671.6,2617.5 L1661.6,2703.5 L1667.6,2703.5 L1667.6,2791 L1675.6,2791 L1675.6,2703.5 L1681.6,2703.5 Z"/>
    <path d="M1798.4,2618.6 L1788.4,2704.4 L1794.4,2704.4 L1794.4,2793 L1802.4,2793 L1802.4,2704.4 L1808.4,2704.4 Z"/>
    <path d="M1926.6,2617.5 L1916.6,2703.5 L1922.6,2703.5 L1922.6,2791 L1930.6,2791 L1930.6,2703.5 L1936.6,2703.5 Z"/>
    <path d="M2091.5,2603 L2081.5,2689 L2087.5,2689 L2087.5,2757 L2095.5,2757 L2095.5,2689 L2101.5,2689 Z"/>
  </g>
  <!-- tape tabs -->
  <g id="tabs14" transform="translate(1241,2650) scale(0.36969)" fill="#b9bcc2" stroke="#231f20" stroke-width="3.5" stroke-linejoin="round">
    <path d="M105,100 L125,93 Q150,125 160,160 L137,150 Q125,120 105,100 Z"/>
    <path d="M193,125 L215,115 Q240,150 250,190 L225,180 Q215,150 193,125 Z"/>
    <path d="M908,303 L940,290 Q990,330 1015,372 L985,364 Q950,325 908,303 Z"/>
  </g>
  <use href="#tabs14" transform="translate(3580,0) scale(-1,1)"/>
  <use href="#spoiler9" transform="translate(1790,2706.2) scale(1.0195) translate(-689.3,-1371.4)"/>
  <use href="#edgeB"/><use href="#edgeB" transform="translate(3578,0) scale(-1,1)"/>
  <use href="#handBL"/><use href="#handBL" transform="translate(3578,0) scale(-1,1)"/>
  <circle cx="1529.4" cy="2885.1" r="30" fill="#fff" stroke="#231f20" stroke-width="2.6"/>
  <text x="1529.4" y="2900.6" class="sans" font-size="44" text-anchor="middle" fill="#231f20" stroke="#fff" stroke-width="0.5">A</text>
  <!-- inset -->
  <rect x="1638.4" y="2861" width="303.2" height="276" rx="64" ry="64" fill="#d0d3da" stroke="#231f20" stroke-width="2" stroke-dasharray="9 5"/>
  <g transform="translate(1620,2840) scale(0.20949)" stroke-linejoin="round" stroke-linecap="round">
    <g fill="none" stroke="#777" stroke-width="5">
      <path d="M295,165 L780,212 L780,1285 L385,1400"/>
      <path d="M915,245 L1255,203 L1355,203 L1405,288 L1360,298 L1360,500 L1175,690 L1175,800 L1355,968 L1355,1205 L1455,1243 L1405,1335 L1255,1325 L915,1235 Z"/>
      <path d="M1255,203 L1255,500 L1095,690 L1095,800 L1255,968 L1255,1325 M1355,203 L1360,298 M1095,690 L1175,690 M1095,800 L1175,800 M1255,968 L1355,968"/>
    </g>
    <g fill="#fff" stroke="#111" stroke-width="10">
      <path d="M490,310 L598,310 A100,435 0 0 1 598,1180 L490,1180 A108,435 0 0 1 490,310 Z"/>
      <path d="M598,310 A100,435 0 0 0 598,1180" fill="none"/>
      <path d="M600,350 A70,395 0 0 0 600,1140 M615,380 A60,365 0 0 0 615,1110" fill="none" stroke-width="4"/>
      <ellipse cx="625" cy="738" rx="28" ry="132" stroke-width="5"/>
      <path d="M935,325 L1010,325 A80,425 0 0 1 1010,1175 L935,1175 A75,425 0 0 1 935,325 Z"/>
      <path d="M935,325 A75,425 0 0 1 935,1175" fill="none"/>
      <rect x="615" y="650" width="345" height="180" rx="20" stroke-width="8"/>
      <path d="M660,650 L660,830 M705,650 L705,830 M750,650 L750,830 M795,650 L795,830 M840,650 L840,830 M885,650 L885,830 M925,650 L925,830" stroke-width="7" fill="none"/>
      <path d="M640,650 L640,830 M685,650 L685,830 M730,650 L730,830 M775,650 L775,830 M820,650 L820,830 M865,650 L865,830 M907,650 L907,830" stroke-width="3" fill="none"/>
    </g>
    <path d="M735,740 L885,690 L885,720 L1322,720 L1322,757 L885,757 L885,790 Z" fill="#231f20"/>
  </g>
</g>

<!-- 99_frame.svg -->
<g id="frame" fill="none" stroke="#231f20" stroke-width="4.3" stroke-linecap="square">
<rect x="148.5" y="203" width="2185" height="2952.2"/>
<line x1="1241" y1="203" x2="1241" y2="3155"/>
<line x1="148.5" y1="935.6" x2="2333.5" y2="935.6"/>
<line x1="148.5" y1="1677" x2="2333.5" y2="1677"/>
<line x1="148.5" y1="2416.4" x2="2333.5" y2="2416.4"/>
<rect x="148.5" y="3244.8" width="2185" height="106.2"/>
<line x1="562" y1="3244.8" x2="562" y2="3351"/>
<line x1="1565" y1="3244.8" x2="1565" y2="3351"/>
</g>
<g fill="#fff" stroke="#231f20" stroke-width="4.3">
<rect x="148.5" y="203" width="117.5" height="98.5"/>
<rect x="1241" y="203" width="117" height="98.5"/>
<rect x="148.5" y="935.6" width="117.5" height="101.7"/>
<rect x="1241" y="935.6" width="117" height="101.7"/>
<rect x="148.5" y="1677" width="117.5" height="98.5"/>
<rect x="1241" y="1677" width="117" height="98.5"/>
<rect x="148.5" y="2416.4" width="117.5" height="98.5"/>
<rect x="1241" y="2416.4" width="117" height="98.5"/>
</g>
<g class="serif" font-size="80.5" fill="#231f20" text-anchor="middle">
<text x="205.8" y="279.3">7</text>
<text x="1298.5" y="279.3">8</text>
<text x="206" y="1013.5">9</text>
<text x="1303.5" y="1013.8" textLength="74.7" lengthAdjust="spacingAndGlyphs">10</text>
<text x="203" y="1752.5" textLength="65.4" lengthAdjust="spacingAndGlyphs">11</text>
<text x="1300.3" y="1753"  textLength="76" lengthAdjust="spacingAndGlyphs">12</text>
<text x="204.8" y="2496.2" font-size="89" textLength="79" lengthAdjust="spacingAndGlyphs">13</text>
<text x="1299" y="2496.4" font-size="89" textLength="80" lengthAdjust="spacingAndGlyphs">14</text>
</g>
<g class="serif" font-size="50" fill="#231f20">
<text x="199" y="3314" textLength="331" lengthAdjust="spacingAndGlyphs">82013 - 78246 / --C</text>
<text x="987" y="3314" textLength="189.6" lengthAdjust="spacingAndGlyphs">08/22/2018</text>
<text x="1925.8" y="3314" textLength="73" lengthAdjust="spacingAndGlyphs">6/10</text>
</g>

</svg>
</body></html>
